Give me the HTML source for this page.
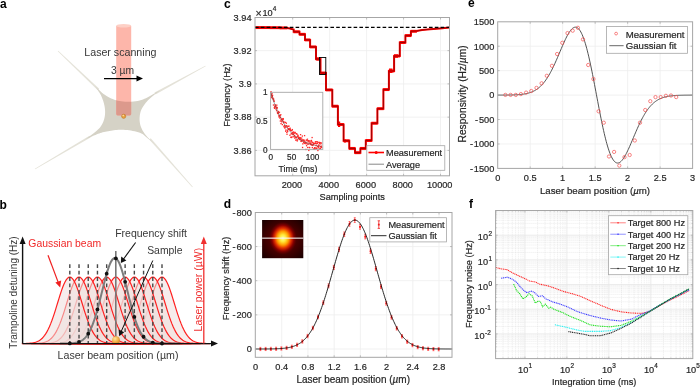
<!DOCTYPE html>
<html><head><meta charset="utf-8"><style>
html,body{margin:0;padding:0;background:#fff;}
svg{display:block;will-change:transform;}
</style></head><body>
<svg width="700" height="387" viewBox="0 0 700 387" font-family="'Liberation Sans', sans-serif">
<rect width="700" height="387" fill="#fff"/>
<text x="0" y="8.3" font-size="12" text-anchor="start" fill="#000" font-weight="bold" >a</text>
<text x="-0.5" y="209" font-size="12" text-anchor="start" fill="#000" font-weight="bold" >b</text>
<text x="224" y="8.3" font-size="12" text-anchor="start" fill="#000" font-weight="bold" >c</text>
<text x="223.8" y="207.5" font-size="12" text-anchor="start" fill="#000" font-weight="bold" >d</text>
<text x="467.9" y="7.4" font-size="12" text-anchor="start" fill="#000" font-weight="bold" >e</text>
<text x="468.9" y="207.5" font-size="12" text-anchor="start" fill="#000" font-weight="bold" >f</text>
<g fill="#e4e2d8" stroke="none">
<polygon points="57.76,51.25 97.81,90.22 99.19,88.78 58.24,50.75"/>
<polygon points="205.33,65.69 154.52,92.62 155.48,94.38 205.67,66.31"/>
<polygon points="192.76,186.77 150.75,138.14 149.25,139.46 192.24,187.23"/>
<polygon points="35.18,169.3 90.51,137.56 89.49,135.84 34.82,168.7"/>
</g>
<clipPath id="memc"><polygon points="94.5,85.5 95.21,86.21 96.2,87.2 97.38,88.38 98.63,89.61 99.87,90.79 101,91.8 101.99,92.65 102.93,93.42 103.84,94.14 104.8,94.83 105.83,95.51 107,96.2 108.3,96.92 109.7,97.65 111.19,98.38 112.74,99.06 114.35,99.68 116,100.2 117.7,100.64 119.46,101.02 121.27,101.33 123.14,101.57 125.05,101.73 127,101.8 129.05,101.78 131.21,101.67 133.42,101.48 135.6,101.22 137.68,100.89 139.6,100.5 141.34,100.03 142.96,99.46 144.49,98.83 145.94,98.16 147.33,97.47 148.7,96.8 150.05,96.1 151.36,95.36 152.61,94.6 153.8,93.86 154.9,93.18 155.9,92.6 156.81,92.1 157.65,91.67 158.4,91.29 159.05,90.97 159.59,90.7 160,90.5 159.17,91.13 158.02,91.99 156.66,93.01 155.2,94.12 153.78,95.24 152.5,96.3 151.34,97.3 150.2,98.29 149.08,99.29 148,100.32 146.97,101.39 146,102.5 145.06,103.67 144.16,104.89 143.29,106.14 142.5,107.41 141.8,108.71 141.2,110 140.72,111.3 140.33,112.63 140.04,113.97 139.82,115.31 139.68,116.66 139.6,118 139.58,119.34 139.63,120.69 139.76,122.03 139.96,123.37 140.24,124.7 140.6,126 141.07,127.3 141.64,128.6 142.3,129.89 143.01,131.15 143.75,132.36 144.5,133.5 145.28,134.57 146.1,135.59 146.96,136.56 147.83,137.49 148.68,138.36 149.5,139.2 150.33,140.02 151.2,140.84 152.06,141.61 152.85,142.3 153.52,142.87 154,143.3 153.22,142.69 152.13,141.83 150.85,140.83 149.49,139.76 148.17,138.72 147,137.8 146.04,136.98 145.21,136.19 144.41,135.43 143.57,134.71 142.59,134.03 141.4,133.4 139.95,132.82 138.31,132.27 136.54,131.78 134.69,131.33 132.82,130.93 131,130.6 129.18,130.33 127.3,130.12 125.41,129.97 123.54,129.87 121.72,129.81 120,129.8 118.38,129.84 116.83,129.95 115.33,130.1 113.87,130.29 112.44,130.49 111,130.7 109.56,130.91 108.14,131.14 106.74,131.39 105.36,131.67 104.01,131.97 102.7,132.3 101.47,132.65 100.34,133.01 99.24,133.41 98.1,133.84 96.88,134.33 95.5,134.9 93.82,135.62 91.86,136.49 89.8,137.41 87.84,138.3 86.18,139.06 85,139.6 86.2,138.71 87.92,137.45 89.92,135.97 92,134.43 93.94,132.95 95.5,131.7 96.7,130.69 97.7,129.8 98.56,128.99 99.32,128.21 100.02,127.39 100.7,126.5 101.36,125.54 101.96,124.55 102.49,123.53 102.98,122.49 103.41,121.41 103.8,120.3 104.15,119.16 104.44,117.97 104.69,116.76 104.89,115.53 105.03,114.27 105.1,113 105.11,111.71 105.06,110.4 104.96,109.08 104.79,107.73 104.57,106.37 104.3,105 103.96,103.58 103.54,102.11 103.07,100.62 102.56,99.17 102.03,97.78 101.5,96.5 100.96,95.34 100.39,94.28 99.79,93.28 99.19,92.33 98.59,91.41 98,90.5 97.38,89.55 96.7,88.57 96.03,87.62 95.41,86.76 94.88,86.03"/></clipPath>
<polygon points="94.5,85.5 95.21,86.21 96.2,87.2 97.38,88.38 98.63,89.61 99.87,90.79 101,91.8 101.99,92.65 102.93,93.42 103.84,94.14 104.8,94.83 105.83,95.51 107,96.2 108.3,96.92 109.7,97.65 111.19,98.38 112.74,99.06 114.35,99.68 116,100.2 117.7,100.64 119.46,101.02 121.27,101.33 123.14,101.57 125.05,101.73 127,101.8 129.05,101.78 131.21,101.67 133.42,101.48 135.6,101.22 137.68,100.89 139.6,100.5 141.34,100.03 142.96,99.46 144.49,98.83 145.94,98.16 147.33,97.47 148.7,96.8 150.05,96.1 151.36,95.36 152.61,94.6 153.8,93.86 154.9,93.18 155.9,92.6 156.81,92.1 157.65,91.67 158.4,91.29 159.05,90.97 159.59,90.7 160,90.5 159.17,91.13 158.02,91.99 156.66,93.01 155.2,94.12 153.78,95.24 152.5,96.3 151.34,97.3 150.2,98.29 149.08,99.29 148,100.32 146.97,101.39 146,102.5 145.06,103.67 144.16,104.89 143.29,106.14 142.5,107.41 141.8,108.71 141.2,110 140.72,111.3 140.33,112.63 140.04,113.97 139.82,115.31 139.68,116.66 139.6,118 139.58,119.34 139.63,120.69 139.76,122.03 139.96,123.37 140.24,124.7 140.6,126 141.07,127.3 141.64,128.6 142.3,129.89 143.01,131.15 143.75,132.36 144.5,133.5 145.28,134.57 146.1,135.59 146.96,136.56 147.83,137.49 148.68,138.36 149.5,139.2 150.33,140.02 151.2,140.84 152.06,141.61 152.85,142.3 153.52,142.87 154,143.3 153.22,142.69 152.13,141.83 150.85,140.83 149.49,139.76 148.17,138.72 147,137.8 146.04,136.98 145.21,136.19 144.41,135.43 143.57,134.71 142.59,134.03 141.4,133.4 139.95,132.82 138.31,132.27 136.54,131.78 134.69,131.33 132.82,130.93 131,130.6 129.18,130.33 127.3,130.12 125.41,129.97 123.54,129.87 121.72,129.81 120,129.8 118.38,129.84 116.83,129.95 115.33,130.1 113.87,130.29 112.44,130.49 111,130.7 109.56,130.91 108.14,131.14 106.74,131.39 105.36,131.67 104.01,131.97 102.7,132.3 101.47,132.65 100.34,133.01 99.24,133.41 98.1,133.84 96.88,134.33 95.5,134.9 93.82,135.62 91.86,136.49 89.8,137.41 87.84,138.3 86.18,139.06 85,139.6 86.2,138.71 87.92,137.45 89.92,135.97 92,134.43 93.94,132.95 95.5,131.7 96.7,130.69 97.7,129.8 98.56,128.99 99.32,128.21 100.02,127.39 100.7,126.5 101.36,125.54 101.96,124.55 102.49,123.53 102.98,122.49 103.41,121.41 103.8,120.3 104.15,119.16 104.44,117.97 104.69,116.76 104.89,115.53 105.03,114.27 105.1,113 105.11,111.71 105.06,110.4 104.96,109.08 104.79,107.73 104.57,106.37 104.3,105 103.96,103.58 103.54,102.11 103.07,100.62 102.56,99.17 102.03,97.78 101.5,96.5 100.96,95.34 100.39,94.28 99.79,93.28 99.19,92.33 98.59,91.41 98,90.5 97.38,89.55 96.7,88.57 96.03,87.62 95.41,86.76 94.88,86.03" fill="#d5d2c6"/>
<path d="M116.2,26 L131.2,26 L131.2,114 Q131.2,115.4 129.8,115.4 L117.6,115.4 Q116.2,115.4 116.2,114 Z" fill="#fdb6aa"/>
<path d="M116.2,26 L131.2,26 L131.2,114 Q131.2,115.4 129.8,115.4 L117.6,115.4 Q116.2,115.4 116.2,114 Z" fill="#dc998c" clip-path="url(#memc)"/>
<ellipse cx="123.7" cy="25.8" rx="7.5" ry="1.8" fill="#fdd0c6"/>
<circle cx="123.7" cy="116.3" r="2.1" fill="#e8a040" stroke="#b87020" stroke-width="0.5"/>
<circle cx="123.2" cy="115.6" r="0.8" fill="#fbe0a0"/>
<text x="84.3" y="55.6" font-size="10.65" text-anchor="start" fill="#383838" >Laser scanning</text>
<text x="111" y="73.6" font-size="10.3" text-anchor="start" fill="#383838" >3 µm</text>
<line x1="104" y1="78.6" x2="138.5" y2="78.6" stroke="#000" stroke-width="1.3" />
<polygon points="143,78.6 136.5,75.6 136.5,81.6" fill="#000"/>
<path d="M114.03,343.57 L115.23,343.55 L116.43,343.53 L117.63,343.5 L118.83,343.46 L120.03,343.4 L121.23,343.33 L122.42,343.22 L123.62,343.09 L124.82,342.91 L126.02,342.68 L127.22,342.38 L128.42,342 L129.62,341.52 L130.82,340.92 L132.02,340.19 L133.22,339.3 L134.42,338.22 L135.62,336.94 L136.82,335.43 L138.01,333.67 L139.21,331.64 L140.41,329.34 L141.61,326.76 L142.81,323.9 L144.01,320.78 L145.21,317.4 L146.41,313.82 L147.61,310.06 L148.81,306.18 L150.01,302.26 L151.21,298.35 L152.41,294.54 L153.61,290.92 L154.8,287.56 L156,284.55 L157.2,281.97 L158.4,279.88 L159.6,278.35 L160.8,277.42 L162,277.1 L163.2,277.42 L164.4,278.35 L165.6,279.88 L166.8,281.97 L168,284.55 L169.2,287.56 L170.39,290.92 L171.59,294.54 L172.79,298.35 L173.99,302.26 L175.19,306.18 L176.39,310.06 L177.59,313.82 L178.79,317.4 L179.99,320.78 L181.19,323.9 L182.39,326.76 L183.59,329.34 L184.79,331.64 L185.99,333.67 L187.18,335.43 L188.38,336.94 L189.58,338.22 L190.78,339.3 L191.98,340.19 L193.18,340.92 L194.38,341.52 L195.58,342 L196.78,342.38 L197.98,342.68 L199.18,342.91 L200.38,343.09 L201.58,343.22 L202.77,343.33 L203.97,343.4 L205.17,343.46 L206.37,343.5 L207.57,343.53 L208.77,343.55 L209.97,343.57 Z" fill="#eedfdd" fill-opacity="0.55" stroke="#ff2020" stroke-width="1.2"/>
<path d="M104.81,343.57 L106.01,343.55 L107.21,343.53 L108.41,343.5 L109.61,343.46 L110.81,343.4 L112.01,343.33 L113.2,343.22 L114.4,343.09 L115.6,342.91 L116.8,342.68 L118,342.38 L119.2,342 L120.4,341.52 L121.6,340.92 L122.8,340.19 L124,339.3 L125.2,338.22 L126.4,336.94 L127.6,335.43 L128.8,333.67 L129.99,331.64 L131.19,329.34 L132.39,326.76 L133.59,323.9 L134.79,320.78 L135.99,317.4 L137.19,313.82 L138.39,310.06 L139.59,306.18 L140.79,302.26 L141.99,298.35 L143.19,294.54 L144.39,290.92 L145.58,287.56 L146.78,284.55 L147.98,281.97 L149.18,279.88 L150.38,278.35 L151.58,277.42 L152.78,277.1 L153.98,277.42 L155.18,278.35 L156.38,279.88 L157.58,281.97 L158.78,284.55 L159.98,287.56 L161.17,290.92 L162.37,294.54 L163.57,298.35 L164.77,302.26 L165.97,306.18 L167.17,310.06 L168.37,313.82 L169.57,317.4 L170.77,320.78 L171.97,323.9 L173.17,326.76 L174.37,329.34 L175.57,331.64 L176.76,333.67 L177.96,335.43 L179.16,336.94 L180.36,338.22 L181.56,339.3 L182.76,340.19 L183.96,340.92 L185.16,341.52 L186.36,342 L187.56,342.38 L188.76,342.68 L189.96,342.91 L191.16,343.09 L192.36,343.22 L193.55,343.33 L194.75,343.4 L195.95,343.46 L197.15,343.5 L198.35,343.53 L199.55,343.55 L200.75,343.57 Z" fill="#eedfdd" fill-opacity="0.55" stroke="#ff2020" stroke-width="1.2"/>
<path d="M95.59,343.57 L96.79,343.55 L97.99,343.53 L99.19,343.5 L100.39,343.46 L101.59,343.4 L102.79,343.33 L103.98,343.22 L105.18,343.09 L106.38,342.91 L107.58,342.68 L108.78,342.38 L109.98,342 L111.18,341.52 L112.38,340.92 L113.58,340.19 L114.78,339.3 L115.98,338.22 L117.18,336.94 L118.38,335.43 L119.58,333.67 L120.77,331.64 L121.97,329.34 L123.17,326.76 L124.37,323.9 L125.57,320.78 L126.77,317.4 L127.97,313.82 L129.17,310.06 L130.37,306.18 L131.57,302.26 L132.77,298.35 L133.97,294.54 L135.17,290.92 L136.36,287.56 L137.56,284.55 L138.76,281.97 L139.96,279.88 L141.16,278.35 L142.36,277.42 L143.56,277.1 L144.76,277.42 L145.96,278.35 L147.16,279.88 L148.36,281.97 L149.56,284.55 L150.76,287.56 L151.95,290.92 L153.15,294.54 L154.35,298.35 L155.55,302.26 L156.75,306.18 L157.95,310.06 L159.15,313.82 L160.35,317.4 L161.55,320.78 L162.75,323.9 L163.95,326.76 L165.15,329.34 L166.35,331.64 L167.55,333.67 L168.74,335.43 L169.94,336.94 L171.14,338.22 L172.34,339.3 L173.54,340.19 L174.74,340.92 L175.94,341.52 L177.14,342 L178.34,342.38 L179.54,342.68 L180.74,342.91 L181.94,343.09 L183.14,343.22 L184.33,343.33 L185.53,343.4 L186.73,343.46 L187.93,343.5 L189.13,343.53 L190.33,343.55 L191.53,343.57 Z" fill="#eedfdd" fill-opacity="0.55" stroke="#ff2020" stroke-width="1.2"/>
<path d="M86.37,343.57 L87.57,343.55 L88.77,343.53 L89.97,343.5 L91.17,343.46 L92.37,343.4 L93.57,343.33 L94.76,343.22 L95.96,343.09 L97.16,342.91 L98.36,342.68 L99.56,342.38 L100.76,342 L101.96,341.52 L103.16,340.92 L104.36,340.19 L105.56,339.3 L106.76,338.22 L107.96,336.94 L109.16,335.43 L110.36,333.67 L111.55,331.64 L112.75,329.34 L113.95,326.76 L115.15,323.9 L116.35,320.78 L117.55,317.4 L118.75,313.82 L119.95,310.06 L121.15,306.18 L122.35,302.26 L123.55,298.35 L124.75,294.54 L125.95,290.92 L127.14,287.56 L128.34,284.55 L129.54,281.97 L130.74,279.88 L131.94,278.35 L133.14,277.42 L134.34,277.1 L135.54,277.42 L136.74,278.35 L137.94,279.88 L139.14,281.97 L140.34,284.55 L141.54,287.56 L142.73,290.92 L143.93,294.54 L145.13,298.35 L146.33,302.26 L147.53,306.18 L148.73,310.06 L149.93,313.82 L151.13,317.4 L152.33,320.78 L153.53,323.9 L154.73,326.76 L155.93,329.34 L157.13,331.64 L158.32,333.67 L159.52,335.43 L160.72,336.94 L161.92,338.22 L163.12,339.3 L164.32,340.19 L165.52,340.92 L166.72,341.52 L167.92,342 L169.12,342.38 L170.32,342.68 L171.52,342.91 L172.72,343.09 L173.92,343.22 L175.11,343.33 L176.31,343.4 L177.51,343.46 L178.71,343.5 L179.91,343.53 L181.11,343.55 L182.31,343.57 Z" fill="#eedfdd" fill-opacity="0.55" stroke="#ff2020" stroke-width="1.2"/>
<path d="M77.15,343.57 L78.35,343.55 L79.55,343.53 L80.75,343.5 L81.95,343.46 L83.15,343.4 L84.35,343.33 L85.54,343.22 L86.74,343.09 L87.94,342.91 L89.14,342.68 L90.34,342.38 L91.54,342 L92.74,341.52 L93.94,340.92 L95.14,340.19 L96.34,339.3 L97.54,338.22 L98.74,336.94 L99.94,335.43 L101.14,333.67 L102.33,331.64 L103.53,329.34 L104.73,326.76 L105.93,323.9 L107.13,320.78 L108.33,317.4 L109.53,313.82 L110.73,310.06 L111.93,306.18 L113.13,302.26 L114.33,298.35 L115.53,294.54 L116.73,290.92 L117.92,287.56 L119.12,284.55 L120.32,281.97 L121.52,279.88 L122.72,278.35 L123.92,277.42 L125.12,277.1 L126.32,277.42 L127.52,278.35 L128.72,279.88 L129.92,281.97 L131.12,284.55 L132.32,287.56 L133.51,290.92 L134.71,294.54 L135.91,298.35 L137.11,302.26 L138.31,306.18 L139.51,310.06 L140.71,313.82 L141.91,317.4 L143.11,320.78 L144.31,323.9 L145.51,326.76 L146.71,329.34 L147.91,331.64 L149.11,333.67 L150.3,335.43 L151.5,336.94 L152.7,338.22 L153.9,339.3 L155.1,340.19 L156.3,340.92 L157.5,341.52 L158.7,342 L159.9,342.38 L161.1,342.68 L162.3,342.91 L163.5,343.09 L164.7,343.22 L165.89,343.33 L167.09,343.4 L168.29,343.46 L169.49,343.5 L170.69,343.53 L171.89,343.55 L173.09,343.57 Z" fill="#eedfdd" fill-opacity="0.55" stroke="#ff2020" stroke-width="1.2"/>
<path d="M67.93,343.57 L69.13,343.55 L70.33,343.53 L71.53,343.5 L72.73,343.46 L73.93,343.4 L75.13,343.33 L76.32,343.22 L77.52,343.09 L78.72,342.91 L79.92,342.68 L81.12,342.38 L82.32,342 L83.52,341.52 L84.72,340.92 L85.92,340.19 L87.12,339.3 L88.32,338.22 L89.52,336.94 L90.72,335.43 L91.92,333.67 L93.11,331.64 L94.31,329.34 L95.51,326.76 L96.71,323.9 L97.91,320.78 L99.11,317.4 L100.31,313.82 L101.51,310.06 L102.71,306.18 L103.91,302.26 L105.11,298.35 L106.31,294.54 L107.51,290.92 L108.7,287.56 L109.9,284.55 L111.1,281.97 L112.3,279.88 L113.5,278.35 L114.7,277.42 L115.9,277.1 L117.1,277.42 L118.3,278.35 L119.5,279.88 L120.7,281.97 L121.9,284.55 L123.1,287.56 L124.29,290.92 L125.49,294.54 L126.69,298.35 L127.89,302.26 L129.09,306.18 L130.29,310.06 L131.49,313.82 L132.69,317.4 L133.89,320.78 L135.09,323.9 L136.29,326.76 L137.49,329.34 L138.69,331.64 L139.88,333.67 L141.08,335.43 L142.28,336.94 L143.48,338.22 L144.68,339.3 L145.88,340.19 L147.08,340.92 L148.28,341.52 L149.48,342 L150.68,342.38 L151.88,342.68 L153.08,342.91 L154.28,343.09 L155.48,343.22 L156.67,343.33 L157.87,343.4 L159.07,343.46 L160.27,343.5 L161.47,343.53 L162.67,343.55 L163.87,343.57 Z" fill="#eedfdd" fill-opacity="0.55" stroke="#ff2020" stroke-width="1.2"/>
<path d="M58.71,343.57 L59.91,343.55 L61.11,343.53 L62.31,343.5 L63.51,343.46 L64.71,343.4 L65.91,343.33 L67.1,343.22 L68.3,343.09 L69.5,342.91 L70.7,342.68 L71.9,342.38 L73.1,342 L74.3,341.52 L75.5,340.92 L76.7,340.19 L77.9,339.3 L79.1,338.22 L80.3,336.94 L81.5,335.43 L82.7,333.67 L83.89,331.64 L85.09,329.34 L86.29,326.76 L87.49,323.9 L88.69,320.78 L89.89,317.4 L91.09,313.82 L92.29,310.06 L93.49,306.18 L94.69,302.26 L95.89,298.35 L97.09,294.54 L98.29,290.92 L99.48,287.56 L100.68,284.55 L101.88,281.97 L103.08,279.88 L104.28,278.35 L105.48,277.42 L106.68,277.1 L107.88,277.42 L109.08,278.35 L110.28,279.88 L111.48,281.97 L112.68,284.55 L113.88,287.56 L115.07,290.92 L116.27,294.54 L117.47,298.35 L118.67,302.26 L119.87,306.18 L121.07,310.06 L122.27,313.82 L123.47,317.4 L124.67,320.78 L125.87,323.9 L127.07,326.76 L128.27,329.34 L129.47,331.64 L130.67,333.67 L131.86,335.43 L133.06,336.94 L134.26,338.22 L135.46,339.3 L136.66,340.19 L137.86,340.92 L139.06,341.52 L140.26,342 L141.46,342.38 L142.66,342.68 L143.86,342.91 L145.06,343.09 L146.26,343.22 L147.45,343.33 L148.65,343.4 L149.85,343.46 L151.05,343.5 L152.25,343.53 L153.45,343.55 L154.65,343.57 Z" fill="#eedfdd" fill-opacity="0.55" stroke="#ff2020" stroke-width="1.2"/>
<path d="M49.49,343.57 L50.69,343.55 L51.89,343.53 L53.09,343.5 L54.29,343.46 L55.49,343.4 L56.69,343.33 L57.88,343.22 L59.08,343.09 L60.28,342.91 L61.48,342.68 L62.68,342.38 L63.88,342 L65.08,341.52 L66.28,340.92 L67.48,340.19 L68.68,339.3 L69.88,338.22 L71.08,336.94 L72.28,335.43 L73.48,333.67 L74.67,331.64 L75.87,329.34 L77.07,326.76 L78.27,323.9 L79.47,320.78 L80.67,317.4 L81.87,313.82 L83.07,310.06 L84.27,306.18 L85.47,302.26 L86.67,298.35 L87.87,294.54 L89.07,290.92 L90.26,287.56 L91.46,284.55 L92.66,281.97 L93.86,279.88 L95.06,278.35 L96.26,277.42 L97.46,277.1 L98.66,277.42 L99.86,278.35 L101.06,279.88 L102.26,281.97 L103.46,284.55 L104.66,287.56 L105.85,290.92 L107.05,294.54 L108.25,298.35 L109.45,302.26 L110.65,306.18 L111.85,310.06 L113.05,313.82 L114.25,317.4 L115.45,320.78 L116.65,323.9 L117.85,326.76 L119.05,329.34 L120.25,331.64 L121.45,333.67 L122.64,335.43 L123.84,336.94 L125.04,338.22 L126.24,339.3 L127.44,340.19 L128.64,340.92 L129.84,341.52 L131.04,342 L132.24,342.38 L133.44,342.68 L134.64,342.91 L135.84,343.09 L137.04,343.22 L138.23,343.33 L139.43,343.4 L140.63,343.46 L141.83,343.5 L143.03,343.53 L144.23,343.55 L145.43,343.57 Z" fill="#eedfdd" fill-opacity="0.55" stroke="#ff2020" stroke-width="1.2"/>
<path d="M40.27,343.57 L41.47,343.55 L42.67,343.53 L43.87,343.5 L45.07,343.46 L46.27,343.4 L47.47,343.33 L48.66,343.22 L49.86,343.09 L51.06,342.91 L52.26,342.68 L53.46,342.38 L54.66,342 L55.86,341.52 L57.06,340.92 L58.26,340.19 L59.46,339.3 L60.66,338.22 L61.86,336.94 L63.06,335.43 L64.25,333.67 L65.45,331.64 L66.65,329.34 L67.85,326.76 L69.05,323.9 L70.25,320.78 L71.45,317.4 L72.65,313.82 L73.85,310.06 L75.05,306.18 L76.25,302.26 L77.45,298.35 L78.65,294.54 L79.85,290.92 L81.04,287.56 L82.24,284.55 L83.44,281.97 L84.64,279.88 L85.84,278.35 L87.04,277.42 L88.24,277.1 L89.44,277.42 L90.64,278.35 L91.84,279.88 L93.04,281.97 L94.24,284.55 L95.44,287.56 L96.63,290.92 L97.83,294.54 L99.03,298.35 L100.23,302.26 L101.43,306.18 L102.63,310.06 L103.83,313.82 L105.03,317.4 L106.23,320.78 L107.43,323.9 L108.63,326.76 L109.83,329.34 L111.03,331.64 L112.22,333.67 L113.42,335.43 L114.62,336.94 L115.82,338.22 L117.02,339.3 L118.22,340.19 L119.42,340.92 L120.62,341.52 L121.82,342 L123.02,342.38 L124.22,342.68 L125.42,342.91 L126.62,343.09 L127.82,343.22 L129.01,343.33 L130.21,343.4 L131.41,343.46 L132.61,343.5 L133.81,343.53 L135.01,343.55 L136.21,343.57 Z" fill="#eedfdd" fill-opacity="0.55" stroke="#ff2020" stroke-width="1.2"/>
<path d="M31.05,343.57 L32.25,343.55 L33.45,343.53 L34.65,343.5 L35.85,343.46 L37.05,343.4 L38.25,343.33 L39.44,343.22 L40.64,343.09 L41.84,342.91 L43.04,342.68 L44.24,342.38 L45.44,342 L46.64,341.52 L47.84,340.92 L49.04,340.19 L50.24,339.3 L51.44,338.22 L52.64,336.94 L53.84,335.43 L55.03,333.67 L56.23,331.64 L57.43,329.34 L58.63,326.76 L59.83,323.9 L61.03,320.78 L62.23,317.4 L63.43,313.82 L64.63,310.06 L65.83,306.18 L67.03,302.26 L68.23,298.35 L69.43,294.54 L70.63,290.92 L71.82,287.56 L73.02,284.55 L74.22,281.97 L75.42,279.88 L76.62,278.35 L77.82,277.42 L79.02,277.1 L80.22,277.42 L81.42,278.35 L82.62,279.88 L83.82,281.97 L85.02,284.55 L86.22,287.56 L87.41,290.92 L88.61,294.54 L89.81,298.35 L91.01,302.26 L92.21,306.18 L93.41,310.06 L94.61,313.82 L95.81,317.4 L97.01,320.78 L98.21,323.9 L99.41,326.76 L100.61,329.34 L101.81,331.64 L103,333.67 L104.2,335.43 L105.4,336.94 L106.6,338.22 L107.8,339.3 L109,340.19 L110.2,340.92 L111.4,341.52 L112.6,342 L113.8,342.38 L115,342.68 L116.2,342.91 L117.4,343.09 L118.6,343.22 L119.79,343.33 L120.99,343.4 L122.19,343.46 L123.39,343.5 L124.59,343.53 L125.79,343.55 L126.99,343.57 Z" fill="#eedfdd" fill-opacity="0.55" stroke="#ff2020" stroke-width="1.2"/>
<path d="M21.83,343.57 L23.03,343.55 L24.23,343.53 L25.43,343.5 L26.63,343.46 L27.83,343.4 L29.03,343.33 L30.22,343.22 L31.42,343.09 L32.62,342.91 L33.82,342.68 L35.02,342.38 L36.22,342 L37.42,341.52 L38.62,340.92 L39.82,340.19 L41.02,339.3 L42.22,338.22 L43.42,336.94 L44.62,335.43 L45.81,333.67 L47.01,331.64 L48.21,329.34 L49.41,326.76 L50.61,323.9 L51.81,320.78 L53.01,317.4 L54.21,313.82 L55.41,310.06 L56.61,306.18 L57.81,302.26 L59.01,298.35 L60.21,294.54 L61.41,290.92 L62.6,287.56 L63.8,284.55 L65,281.97 L66.2,279.88 L67.4,278.35 L68.6,277.42 L69.8,277.1 L71,277.42 L72.2,278.35 L73.4,279.88 L74.6,281.97 L75.8,284.55 L77,287.56 L78.19,290.92 L79.39,294.54 L80.59,298.35 L81.79,302.26 L82.99,306.18 L84.19,310.06 L85.39,313.82 L86.59,317.4 L87.79,320.78 L88.99,323.9 L90.19,326.76 L91.39,329.34 L92.59,331.64 L93.78,333.67 L94.98,335.43 L96.18,336.94 L97.38,338.22 L98.58,339.3 L99.78,340.19 L100.98,340.92 L102.18,341.52 L103.38,342 L104.58,342.38 L105.78,342.68 L106.98,342.91 L108.18,343.09 L109.38,343.22 L110.57,343.33 L111.77,343.4 L112.97,343.46 L114.17,343.5 L115.37,343.53 L116.57,343.55 L117.77,343.57 Z" fill="#eedfdd" fill-opacity="0.55" stroke="#ff2020" stroke-width="1.2"/>
<line x1="69.8" y1="264.3" x2="69.8" y2="343.6" stroke="#484848" stroke-width="1.4" stroke-dasharray="3.8,2.6"/>
<line x1="79.02" y1="264.3" x2="79.02" y2="343.6" stroke="#484848" stroke-width="1.4" stroke-dasharray="3.8,2.6"/>
<line x1="88.24" y1="264.3" x2="88.24" y2="343.6" stroke="#484848" stroke-width="1.4" stroke-dasharray="3.8,2.6"/>
<line x1="97.46" y1="264.3" x2="97.46" y2="343.6" stroke="#484848" stroke-width="1.4" stroke-dasharray="3.8,2.6"/>
<line x1="106.68" y1="264.3" x2="106.68" y2="343.6" stroke="#484848" stroke-width="1.4" stroke-dasharray="3.8,2.6"/>
<line x1="125.12" y1="264.3" x2="125.12" y2="343.6" stroke="#484848" stroke-width="1.4" stroke-dasharray="3.8,2.6"/>
<line x1="134.34" y1="264.3" x2="134.34" y2="343.6" stroke="#484848" stroke-width="1.4" stroke-dasharray="3.8,2.6"/>
<line x1="143.56" y1="264.3" x2="143.56" y2="343.6" stroke="#484848" stroke-width="1.4" stroke-dasharray="3.8,2.6"/>
<line x1="152.78" y1="264.3" x2="152.78" y2="343.6" stroke="#484848" stroke-width="1.4" stroke-dasharray="3.8,2.6"/>
<line x1="162" y1="264.3" x2="162" y2="343.6" stroke="#484848" stroke-width="1.4" stroke-dasharray="3.8,2.6"/>
<line x1="115.8" y1="251" x2="115.8" y2="340" stroke="#777" stroke-width="1.6" />
<polyline points="60,343.59 60.5,343.59 61,343.59 61.5,343.59 62,343.58 62.5,343.58 63,343.58 63.5,343.57 64,343.57 64.5,343.56 65,343.56 65.5,343.55 66,343.54 66.5,343.53 67,343.52 67.5,343.51 68,343.49 68.5,343.48 69,343.46 69.5,343.44 70,343.41 70.5,343.39 71,343.35 71.5,343.32 72,343.28 72.5,343.24 73,343.19 73.5,343.13 74,343.07 74.5,343 75,342.92 75.5,342.83 76,342.74 76.5,342.63 77,342.51 77.5,342.38 78,342.23 78.5,342.07 79,341.89 79.5,341.69 80,341.48 80.5,341.24 81,340.98 81.5,340.7 82,340.39 82.5,340.06 83,339.69 83.5,339.3 84,338.87 84.5,338.41 85,337.91 85.5,337.37 86,336.8 86.5,336.18 87,335.52 87.5,334.81 88,334.05 88.5,333.24 89,332.39 89.5,331.48 90,330.51 90.5,329.5 91,328.42 91.5,327.29 92,326.1 92.5,324.86 93,323.55 93.5,322.19 94,320.77 94.5,319.29 95,317.76 95.5,316.17 96,314.52 96.5,312.83 97,311.09 97.5,309.3 98,307.47 98.5,305.6 99,303.69 99.5,301.75 100,299.78 100.5,297.79 101,295.78 101.5,293.77 102,291.74 102.5,289.72 103,287.7 103.5,285.69 104,283.71 104.5,281.75 105,279.82 105.5,277.93 106,276.1 106.5,274.31 107,272.59 107.5,270.93 108,269.35 108.5,267.85 109,266.44 109.5,265.12 110,263.91 110.5,262.79 111,261.79 111.5,260.89 112,260.12 112.5,259.47 113,258.94 113.5,258.54 114,258.27 114.5,258.12 115,258.11 115.5,258.23 116,258.47 116.5,258.85 117,259.35 117.5,259.98 118,260.73 118.5,261.6 119,262.58 119.5,263.67 120,264.87 120.5,266.17 121,267.56 121.5,269.05 122,270.61 122.5,272.25 123,273.96 123.5,275.73 124,277.56 124.5,279.44 125,281.36 125.5,283.31 126,285.29 126.5,287.3 127,289.31 127.5,291.34 128,293.36 128.5,295.38 129,297.39 129.5,299.39 130,301.36 130.5,303.3 131,305.22 131.5,307.1 132,308.94 132.5,310.73 133,312.49 133.5,314.19 134,315.84 134.5,317.44 135,318.99 135.5,320.48 136,321.91 136.5,323.28 137,324.6 137.5,325.86 138,327.06 138.5,328.2 139,329.29 139.5,330.31 140,331.29 140.5,332.21 141,333.08 141.5,333.89 142,334.66 142.5,335.38 143,336.05 143.5,336.68 144,337.26 144.5,337.81 145,338.31 145.5,338.78 146,339.22 146.5,339.62 147,339.99 147.5,340.33 148,340.64 148.5,340.93 149,341.19 149.5,341.43 150,341.65 150.5,341.85 151,342.03 151.5,342.2 152,342.35 152.5,342.48 153,342.6 153.5,342.71 154,342.81 154.5,342.9 155,342.98 155.5,343.05 156,343.12 156.5,343.18 157,343.23 157.5,343.27 158,343.31 158.5,343.35 159,343.38 159.5,343.41 160,343.43 160.5,343.45 161,343.47 161.5,343.49 162,343.5 162.5,343.52 163,343.53 163.5,343.54 164,343.55 164.5,343.55 165,343.56 165.5,343.57 166,343.57 166.5,343.58 167,343.58 167.5,343.58 168,343.58 168.5,343.59 169,343.59 169.5,343.59 170,343.59 170.5,343.59 171,343.59 171.5,343.6 172,343.6 172.5,343.6 173,343.6 173.5,343.6 174,343.6 174.5,343.6 175,343.6 175.5,343.6 176,343.6 176.5,343.6 177,343.6 177.5,343.6 178,343.6 178.5,343.6 179,343.6 179.5,343.6 180,343.6" fill="none" stroke="#7c7c7c" stroke-width="2.0" />
<circle cx="69.8" cy="343.42" r="1.9" fill="#111"/>
<circle cx="79.02" cy="341.88" r="1.9" fill="#111"/>
<circle cx="88.24" cy="333.67" r="1.9" fill="#111"/>
<circle cx="97.46" cy="309.44" r="1.9" fill="#111"/>
<circle cx="106.68" cy="273.68" r="1.9" fill="#111"/>
<circle cx="115.9" cy="258.42" r="1.9" fill="#111"/>
<circle cx="125.12" cy="281.83" r="1.9" fill="#111"/>
<circle cx="134.34" cy="316.94" r="1.9" fill="#111"/>
<circle cx="143.56" cy="336.75" r="1.9" fill="#111"/>
<circle cx="152.78" cy="342.55" r="1.9" fill="#111"/>
<circle cx="162" cy="343.5" r="1.9" fill="#111"/>
<defs><radialGradient id="ball" cx="0.38" cy="0.32" r="0.7"><stop offset="0" stop-color="#fde4a0"/><stop offset="0.5" stop-color="#f6b850"/><stop offset="1" stop-color="#d88a28"/></radialGradient></defs>
<circle cx="116" cy="340.2" r="3.9" fill="url(#ball)"/>
<line x1="22.6" y1="343.6" x2="212" y2="343.6" stroke="#111" stroke-width="1.4" />
<polygon points="218,343.6 211,340.6 211,346.6" fill="#111"/>
<line x1="22.6" y1="343.6" x2="22.6" y2="243" stroke="#111" stroke-width="1.4" />
<polygon points="22.6,236.5 19.6,244 25.6,244" fill="#111"/>
<line x1="203.8" y1="343.6" x2="203.8" y2="243" stroke="#f03030" stroke-width="1.3" />
<polygon points="203.8,236.5 200.8,244 206.8,244" fill="#f03030"/>
<line x1="135.6" y1="242.5" x2="123.2" y2="259.5" stroke="#111" stroke-width="1.1" />
<polygon points="120.8,263 121.2,256.6 126.4,260.4" fill="#111"/>
<line x1="152.8" y1="260.5" x2="120.5" y2="333" stroke="#111" stroke-width="1.0" />
<polygon points="119.2,336.2 118.6,329.6 124.2,332.2" fill="#111"/>
<line x1="48" y1="255.2" x2="58.6" y2="283.4" stroke="#f02020" stroke-width="1.2" />
<polygon points="60.2,287.6 55.4,282.6 61.2,280.6" fill="#f02020"/>
<text x="28.3" y="246.6" font-size="10.4" text-anchor="start" fill="#f02828" >Gaussian beam</text>
<text x="115.2" y="237" font-size="10.5" text-anchor="start" fill="#383838" >Frequency shift</text>
<text x="147.2" y="254.1" font-size="10.4" text-anchor="start" fill="#383838" >Sample</text>
<text x="118" y="358.8" font-size="10.65" text-anchor="middle" fill="#383838" >Laser beam position (µm)</text>
<text transform="translate(16.9,292.6) rotate(-90)" font-size="10" text-anchor="middle" fill="#383838">Trampoline detuning (Hz)</text>
<text transform="translate(201.6,289.6) rotate(-90)" font-size="10.5" text-anchor="middle" fill="#f03030">Laser power (µW)</text>
<line x1="292.7" y1="17.5" x2="292.7" y2="175.8" stroke="#eeeeee" stroke-width="0.8" />
<line x1="329.65" y1="17.5" x2="329.65" y2="175.8" stroke="#eeeeee" stroke-width="0.8" />
<line x1="366.6" y1="17.5" x2="366.6" y2="175.8" stroke="#eeeeee" stroke-width="0.8" />
<line x1="403.55" y1="17.5" x2="403.55" y2="175.8" stroke="#eeeeee" stroke-width="0.8" />
<line x1="440.5" y1="17.5" x2="440.5" y2="175.8" stroke="#eeeeee" stroke-width="0.8" />
<line x1="255" y1="150.4" x2="449.5" y2="150.4" stroke="#eeeeee" stroke-width="0.8" />
<line x1="255" y1="117.15" x2="449.5" y2="117.15" stroke="#eeeeee" stroke-width="0.8" />
<line x1="255" y1="83.9" x2="449.5" y2="83.9" stroke="#eeeeee" stroke-width="0.8" />
<line x1="255" y1="50.65" x2="449.5" y2="50.65" stroke="#eeeeee" stroke-width="0.8" />
<polyline points="255.5,27.6 270,27.7 280,27.9 287,28.1 290,28.6 293.7,29.6 293.7,31.8 299.5,31.8 299.5,34.3 305,34.3 305,39.9 310.1,39.9 310.1,46.9 316,46.9 316,59 320.5,59 320.5,73 326,73 326,89.9 332.3,89.9 332.3,106.2 337.9,106.2 337.9,124.5 343.6,124.5 343.6,140.8 349.3,140.8 349.3,148.4 355,148.4 355,152.7 360.4,152.7 360.4,148.4 365.8,148.4 365.8,140.5 371.6,140.5 371.6,123.2 377.4,123.2 377.4,108.7 383.4,108.7 383.4,89.6 388.9,89.6 388.9,71 394.1,71 394.1,56 399.8,56 399.8,42.5 405.4,42.5 405.4,35.6 410.9,35.6 410.9,31.3 416.6,31 422,30 430,29.2 440,28.4 449.3,27.6" fill="none" stroke="#ff0000" stroke-width="2.0" stroke-linejoin="miter"/>
<rect x="255.2" y="26.15" width="15.1" height="2.9" fill="#ff0000"/>
<rect x="269.7" y="26.25" width="10.6" height="2.9" fill="#ff0000"/>
<rect x="279.7" y="26.45" width="7.6" height="2.9" fill="#ff0000"/>
<rect x="293.4" y="30.35" width="6.4" height="2.9" fill="#ff0000"/>
<rect x="299.2" y="32.85" width="6.1" height="2.9" fill="#ff0000"/>
<rect x="304.7" y="38.45" width="5.7" height="2.9" fill="#ff0000"/>
<rect x="309.8" y="45.45" width="6.5" height="2.9" fill="#ff0000"/>
<rect x="315.7" y="57.55" width="5.1" height="2.9" fill="#ff0000"/>
<rect x="320.2" y="71.55" width="6.1" height="2.9" fill="#ff0000"/>
<rect x="325.7" y="88.45" width="6.9" height="2.9" fill="#ff0000"/>
<rect x="332" y="104.75" width="6.2" height="2.9" fill="#ff0000"/>
<rect x="337.6" y="123.05" width="6.3" height="2.9" fill="#ff0000"/>
<rect x="343.3" y="139.35" width="6.3" height="2.9" fill="#ff0000"/>
<rect x="349" y="146.95" width="6.3" height="2.9" fill="#ff0000"/>
<rect x="354.7" y="151.25" width="6" height="2.9" fill="#ff0000"/>
<rect x="360.1" y="146.95" width="6" height="2.9" fill="#ff0000"/>
<rect x="365.5" y="139.05" width="6.4" height="2.9" fill="#ff0000"/>
<rect x="371.3" y="121.75" width="6.4" height="2.9" fill="#ff0000"/>
<rect x="377.1" y="107.25" width="6.6" height="2.9" fill="#ff0000"/>
<rect x="383.1" y="88.15" width="6.1" height="2.9" fill="#ff0000"/>
<rect x="388.6" y="69.55" width="5.8" height="2.9" fill="#ff0000"/>
<rect x="393.8" y="54.55" width="6.3" height="2.9" fill="#ff0000"/>
<rect x="399.5" y="41.05" width="6.2" height="2.9" fill="#ff0000"/>
<rect x="405.1" y="34.15" width="6.1" height="2.9" fill="#ff0000"/>
<rect x="410.6" y="29.85" width="6.3" height="2.9" fill="#ff0000"/>
<rect x="338" y="121.5" width="2.2" height="5.5" fill="#ff0000"/>
<rect x="389" y="68.5" width="3.5" height="4.5" fill="#ff0000"/>
<rect x="394" y="54.3" width="4" height="3.5" fill="#ff0000"/>
<rect x="316.5" y="57.5" width="2.5" height="3" fill="#ff0000"/>
<rect x="344" y="139.5" width="2" height="3" fill="#ff0000"/>
<polyline points="255.5,27.6 270,27.7 280,27.9 287,28.1 290,28.6 293.7,29.6 293.7,31.8 299.5,31.8 299.5,34.3 305,34.3 305,39.9 310.1,39.9 310.1,46.9 316,46.9 316,59 320.5,59 320.5,73 326,73 326,89.9 332.3,89.9 332.3,106.2 337.9,106.2 337.9,124.5 343.6,124.5 343.6,140.8 349.3,140.8 349.3,148.4 355,148.4 355,152.7 360.4,152.7 360.4,148.4 365.8,148.4 365.8,140.5 371.6,140.5 371.6,123.2 377.4,123.2 377.4,108.7 383.4,108.7 383.4,89.6 388.9,89.6 388.9,71 394.1,71 394.1,56 399.8,56 399.8,42.5 405.4,42.5 405.4,35.6 410.9,35.6 410.9,31.3 416.6,31 422,30 430,29.2 440,28.4 449.3,27.6" fill="none" stroke="#a00000" stroke-width="1.0" />
<line x1="255" y1="27.4" x2="449.5" y2="27.4" stroke="#000" stroke-width="1.2" stroke-dasharray="3.6,2.2"/>
<rect x="319.5" y="57.5" width="6.3" height="17" fill="none" stroke="#000" stroke-width="0.9" />
<rect x="255" y="17.5" width="194.5" height="158.3" fill="none" stroke="#a6a6a6" stroke-width="1" />
<line x1="292.7" y1="175.8" x2="292.7" y2="173.8" stroke="#a6a6a6" stroke-width="0.7" />
<line x1="292.7" y1="17.5" x2="292.7" y2="19.5" stroke="#a6a6a6" stroke-width="0.7" />
<line x1="329.65" y1="175.8" x2="329.65" y2="173.8" stroke="#a6a6a6" stroke-width="0.7" />
<line x1="329.65" y1="17.5" x2="329.65" y2="19.5" stroke="#a6a6a6" stroke-width="0.7" />
<line x1="366.6" y1="175.8" x2="366.6" y2="173.8" stroke="#a6a6a6" stroke-width="0.7" />
<line x1="366.6" y1="17.5" x2="366.6" y2="19.5" stroke="#a6a6a6" stroke-width="0.7" />
<line x1="403.55" y1="175.8" x2="403.55" y2="173.8" stroke="#a6a6a6" stroke-width="0.7" />
<line x1="403.55" y1="17.5" x2="403.55" y2="19.5" stroke="#a6a6a6" stroke-width="0.7" />
<line x1="440.5" y1="175.8" x2="440.5" y2="173.8" stroke="#a6a6a6" stroke-width="0.7" />
<line x1="440.5" y1="17.5" x2="440.5" y2="19.5" stroke="#a6a6a6" stroke-width="0.7" />
<line x1="255" y1="150.4" x2="257" y2="150.4" stroke="#a6a6a6" stroke-width="0.7" />
<line x1="449.5" y1="150.4" x2="447.5" y2="150.4" stroke="#a6a6a6" stroke-width="0.7" />
<line x1="255" y1="117.15" x2="257" y2="117.15" stroke="#a6a6a6" stroke-width="0.7" />
<line x1="449.5" y1="117.15" x2="447.5" y2="117.15" stroke="#a6a6a6" stroke-width="0.7" />
<line x1="255" y1="83.9" x2="257" y2="83.9" stroke="#a6a6a6" stroke-width="0.7" />
<line x1="449.5" y1="83.9" x2="447.5" y2="83.9" stroke="#a6a6a6" stroke-width="0.7" />
<line x1="255" y1="50.65" x2="257" y2="50.65" stroke="#a6a6a6" stroke-width="0.7" />
<line x1="449.5" y1="50.65" x2="447.5" y2="50.65" stroke="#a6a6a6" stroke-width="0.7" />
<text x="251.5" y="20.7" font-size="9.2" text-anchor="end" fill="#262626" stroke="#262626" stroke-width="0.2" >3.94</text>
<text x="251.5" y="53.95" font-size="9.2" text-anchor="end" fill="#262626" stroke="#262626" stroke-width="0.2" >3.92</text>
<text x="251.5" y="87.2" font-size="9.2" text-anchor="end" fill="#262626" stroke="#262626" stroke-width="0.2" >3.9</text>
<text x="251.5" y="120.45" font-size="9.2" text-anchor="end" fill="#262626" stroke="#262626" stroke-width="0.2" >3.88</text>
<text x="251.5" y="153.7" font-size="9.2" text-anchor="end" fill="#262626" stroke="#262626" stroke-width="0.2" >3.86</text>
<text x="291.9" y="187.8" font-size="9.2" text-anchor="middle" fill="#262626" stroke="#262626" stroke-width="0.2" >2000</text>
<text x="328.85" y="187.8" font-size="9.2" text-anchor="middle" fill="#262626" stroke="#262626" stroke-width="0.2" >4000</text>
<text x="365.8" y="187.8" font-size="9.2" text-anchor="middle" fill="#262626" stroke="#262626" stroke-width="0.2" >6000</text>
<text x="402.75" y="187.8" font-size="9.2" text-anchor="middle" fill="#262626" stroke="#262626" stroke-width="0.2" >8000</text>
<text x="439.7" y="187.8" font-size="9.2" text-anchor="middle" fill="#262626" stroke="#262626" stroke-width="0.2" >10000</text>
<text x="352.2" y="199.6" font-size="9.2" text-anchor="middle" fill="#262626" stroke="#262626" stroke-width="0.2" >Sampling points</text>
<text transform="translate(229.6,95.2) rotate(-90)" font-size="9.2" text-anchor="middle" fill="#262626" stroke="#262626" stroke-width="0.2">Frequency (Hz)</text>
<text x="255.4" y="17" font-size="10.5" text-anchor="start" fill="#262626" stroke="#262626" stroke-width="0.2" >×</text>
<text x="262.5" y="15.7" font-size="9.2" text-anchor="start" fill="#262626" stroke="#262626" stroke-width="0.2" >10</text>
<text x="272.8" y="10.6" font-size="6.4" text-anchor="start" fill="#262626" stroke="#262626" stroke-width="0.2" >4</text>
<rect x="270.6" y="92.3" width="52.2" height="57.1" fill="#fff" stroke="#fff" stroke-width="0" />
<rect x="270.15" y="92.31" width="1.3" height="1.3" fill="#ff2a2a"/>
<rect x="270.37" y="91.09" width="1.3" height="1.3" fill="#ff2a2a"/>
<rect x="270.59" y="93.73" width="1.3" height="1.3" fill="#ff2a2a"/>
<rect x="270.82" y="94.7" width="1.3" height="1.3" fill="#ff2a2a"/>
<rect x="271.04" y="97" width="1.3" height="1.3" fill="#ff2a2a"/>
<rect x="271.26" y="95.88" width="1.3" height="1.3" fill="#ff2a2a"/>
<rect x="271.48" y="93.18" width="1.3" height="1.3" fill="#ff2a2a"/>
<rect x="271.71" y="95.64" width="1.3" height="1.3" fill="#ff2a2a"/>
<rect x="271.93" y="94.76" width="1.3" height="1.3" fill="#ff2a2a"/>
<rect x="272.15" y="97.46" width="1.3" height="1.3" fill="#ff2a2a"/>
<rect x="272.37" y="97.76" width="1.3" height="1.3" fill="#ff2a2a"/>
<rect x="272.59" y="98.96" width="1.3" height="1.3" fill="#ff2a2a"/>
<rect x="272.82" y="104.37" width="1.3" height="1.3" fill="#ff2a2a"/>
<rect x="273.04" y="98.53" width="1.3" height="1.3" fill="#ff2a2a"/>
<rect x="273.26" y="100.06" width="1.3" height="1.3" fill="#ff2a2a"/>
<rect x="273.48" y="100.71" width="1.3" height="1.3" fill="#ff2a2a"/>
<rect x="273.7" y="106.95" width="1.3" height="1.3" fill="#ff2a2a"/>
<rect x="273.93" y="107.7" width="1.3" height="1.3" fill="#ff2a2a"/>
<rect x="274.15" y="106.11" width="1.3" height="1.3" fill="#ff2a2a"/>
<rect x="274.37" y="105.62" width="1.3" height="1.3" fill="#ff2a2a"/>
<rect x="274.59" y="104.22" width="1.3" height="1.3" fill="#ff2a2a"/>
<rect x="274.82" y="105.7" width="1.3" height="1.3" fill="#ff2a2a"/>
<rect x="275.04" y="104.81" width="1.3" height="1.3" fill="#ff2a2a"/>
<rect x="275.26" y="108.37" width="1.3" height="1.3" fill="#ff2a2a"/>
<rect x="275.48" y="106.48" width="1.3" height="1.3" fill="#ff2a2a"/>
<rect x="275.7" y="106.81" width="1.3" height="1.3" fill="#ff2a2a"/>
<rect x="275.93" y="110.06" width="1.3" height="1.3" fill="#ff2a2a"/>
<rect x="276.15" y="104.48" width="1.3" height="1.3" fill="#ff2a2a"/>
<rect x="276.37" y="107.99" width="1.3" height="1.3" fill="#ff2a2a"/>
<rect x="276.59" y="106.87" width="1.3" height="1.3" fill="#ff2a2a"/>
<rect x="276.81" y="112.05" width="1.3" height="1.3" fill="#ff2a2a"/>
<rect x="277.04" y="112.86" width="1.3" height="1.3" fill="#ff2a2a"/>
<rect x="277.26" y="112.35" width="1.3" height="1.3" fill="#ff2a2a"/>
<rect x="277.48" y="112.23" width="1.3" height="1.3" fill="#ff2a2a"/>
<rect x="277.7" y="110.82" width="1.3" height="1.3" fill="#ff2a2a"/>
<rect x="277.93" y="112.29" width="1.3" height="1.3" fill="#ff2a2a"/>
<rect x="278.15" y="114.55" width="1.3" height="1.3" fill="#ff2a2a"/>
<rect x="278.37" y="116.33" width="1.3" height="1.3" fill="#ff2a2a"/>
<rect x="278.59" y="115.67" width="1.3" height="1.3" fill="#ff2a2a"/>
<rect x="278.81" y="111.65" width="1.3" height="1.3" fill="#ff2a2a"/>
<rect x="279.04" y="117.31" width="1.3" height="1.3" fill="#ff2a2a"/>
<rect x="279.26" y="115.05" width="1.3" height="1.3" fill="#ff2a2a"/>
<rect x="279.48" y="115.02" width="1.3" height="1.3" fill="#ff2a2a"/>
<rect x="279.7" y="120.37" width="1.3" height="1.3" fill="#ff2a2a"/>
<rect x="279.92" y="116.85" width="1.3" height="1.3" fill="#ff2a2a"/>
<rect x="280.15" y="114.04" width="1.3" height="1.3" fill="#ff2a2a"/>
<rect x="280.37" y="122.98" width="1.3" height="1.3" fill="#ff2a2a"/>
<rect x="280.59" y="119.04" width="1.3" height="1.3" fill="#ff2a2a"/>
<rect x="280.81" y="118.89" width="1.3" height="1.3" fill="#ff2a2a"/>
<rect x="281.04" y="121.12" width="1.3" height="1.3" fill="#ff2a2a"/>
<rect x="281.26" y="118.13" width="1.3" height="1.3" fill="#ff2a2a"/>
<rect x="281.48" y="119.96" width="1.3" height="1.3" fill="#ff2a2a"/>
<rect x="281.7" y="123.95" width="1.3" height="1.3" fill="#ff2a2a"/>
<rect x="281.92" y="118.43" width="1.3" height="1.3" fill="#ff2a2a"/>
<rect x="282.15" y="119.21" width="1.3" height="1.3" fill="#ff2a2a"/>
<rect x="282.37" y="118.87" width="1.3" height="1.3" fill="#ff2a2a"/>
<rect x="282.59" y="117.96" width="1.3" height="1.3" fill="#ff2a2a"/>
<rect x="282.81" y="121.09" width="1.3" height="1.3" fill="#ff2a2a"/>
<rect x="283.04" y="122.07" width="1.3" height="1.3" fill="#ff2a2a"/>
<rect x="283.26" y="126.06" width="1.3" height="1.3" fill="#ff2a2a"/>
<rect x="283.48" y="121.49" width="1.3" height="1.3" fill="#ff2a2a"/>
<rect x="283.7" y="124.98" width="1.3" height="1.3" fill="#ff2a2a"/>
<rect x="283.92" y="124.91" width="1.3" height="1.3" fill="#ff2a2a"/>
<rect x="284.15" y="127.33" width="1.3" height="1.3" fill="#ff2a2a"/>
<rect x="284.37" y="126.89" width="1.3" height="1.3" fill="#ff2a2a"/>
<rect x="284.59" y="126.09" width="1.3" height="1.3" fill="#ff2a2a"/>
<rect x="284.81" y="121.73" width="1.3" height="1.3" fill="#ff2a2a"/>
<rect x="285.03" y="130.58" width="1.3" height="1.3" fill="#ff2a2a"/>
<rect x="285.26" y="129.41" width="1.3" height="1.3" fill="#ff2a2a"/>
<rect x="285.48" y="125.36" width="1.3" height="1.3" fill="#ff2a2a"/>
<rect x="285.7" y="122.56" width="1.3" height="1.3" fill="#ff2a2a"/>
<rect x="285.92" y="125.08" width="1.3" height="1.3" fill="#ff2a2a"/>
<rect x="286.15" y="131.75" width="1.3" height="1.3" fill="#ff2a2a"/>
<rect x="286.37" y="133.62" width="1.3" height="1.3" fill="#ff2a2a"/>
<rect x="286.59" y="126.52" width="1.3" height="1.3" fill="#ff2a2a"/>
<rect x="286.81" y="129.61" width="1.3" height="1.3" fill="#ff2a2a"/>
<rect x="287.03" y="130.88" width="1.3" height="1.3" fill="#ff2a2a"/>
<rect x="287.26" y="125.76" width="1.3" height="1.3" fill="#ff2a2a"/>
<rect x="287.48" y="125.71" width="1.3" height="1.3" fill="#ff2a2a"/>
<rect x="287.7" y="128.41" width="1.3" height="1.3" fill="#ff2a2a"/>
<rect x="287.92" y="128.44" width="1.3" height="1.3" fill="#ff2a2a"/>
<rect x="288.14" y="128.22" width="1.3" height="1.3" fill="#ff2a2a"/>
<rect x="288.37" y="125.5" width="1.3" height="1.3" fill="#ff2a2a"/>
<rect x="288.59" y="128.26" width="1.3" height="1.3" fill="#ff2a2a"/>
<rect x="288.81" y="128.76" width="1.3" height="1.3" fill="#ff2a2a"/>
<rect x="289.03" y="128.94" width="1.3" height="1.3" fill="#ff2a2a"/>
<rect x="289.26" y="134.62" width="1.3" height="1.3" fill="#ff2a2a"/>
<rect x="289.48" y="127.53" width="1.3" height="1.3" fill="#ff2a2a"/>
<rect x="289.7" y="128.61" width="1.3" height="1.3" fill="#ff2a2a"/>
<rect x="289.92" y="129.94" width="1.3" height="1.3" fill="#ff2a2a"/>
<rect x="290.14" y="136.6" width="1.3" height="1.3" fill="#ff2a2a"/>
<rect x="290.37" y="133.39" width="1.3" height="1.3" fill="#ff2a2a"/>
<rect x="290.59" y="129.82" width="1.3" height="1.3" fill="#ff2a2a"/>
<rect x="290.81" y="136.86" width="1.3" height="1.3" fill="#ff2a2a"/>
<rect x="291.03" y="132.9" width="1.3" height="1.3" fill="#ff2a2a"/>
<rect x="291.25" y="130.02" width="1.3" height="1.3" fill="#ff2a2a"/>
<rect x="291.48" y="136.22" width="1.3" height="1.3" fill="#ff2a2a"/>
<rect x="291.7" y="128.93" width="1.3" height="1.3" fill="#ff2a2a"/>
<rect x="291.92" y="131.85" width="1.3" height="1.3" fill="#ff2a2a"/>
<rect x="292.14" y="133.86" width="1.3" height="1.3" fill="#ff2a2a"/>
<rect x="292.37" y="132.84" width="1.3" height="1.3" fill="#ff2a2a"/>
<rect x="292.59" y="132.21" width="1.3" height="1.3" fill="#ff2a2a"/>
<rect x="292.81" y="133.76" width="1.3" height="1.3" fill="#ff2a2a"/>
<rect x="293.03" y="131.32" width="1.3" height="1.3" fill="#ff2a2a"/>
<rect x="293.25" y="136.16" width="1.3" height="1.3" fill="#ff2a2a"/>
<rect x="293.48" y="135.71" width="1.3" height="1.3" fill="#ff2a2a"/>
<rect x="293.7" y="132.16" width="1.3" height="1.3" fill="#ff2a2a"/>
<rect x="293.92" y="134.95" width="1.3" height="1.3" fill="#ff2a2a"/>
<rect x="294.14" y="137.46" width="1.3" height="1.3" fill="#ff2a2a"/>
<rect x="294.37" y="132.95" width="1.3" height="1.3" fill="#ff2a2a"/>
<rect x="294.59" y="131.79" width="1.3" height="1.3" fill="#ff2a2a"/>
<rect x="294.81" y="136.87" width="1.3" height="1.3" fill="#ff2a2a"/>
<rect x="295.03" y="139.45" width="1.3" height="1.3" fill="#ff2a2a"/>
<rect x="295.25" y="136.42" width="1.3" height="1.3" fill="#ff2a2a"/>
<rect x="295.48" y="136.62" width="1.3" height="1.3" fill="#ff2a2a"/>
<rect x="295.7" y="137.17" width="1.3" height="1.3" fill="#ff2a2a"/>
<rect x="295.92" y="132.96" width="1.3" height="1.3" fill="#ff2a2a"/>
<rect x="296.14" y="139.37" width="1.3" height="1.3" fill="#ff2a2a"/>
<rect x="296.36" y="133.65" width="1.3" height="1.3" fill="#ff2a2a"/>
<rect x="296.59" y="140.31" width="1.3" height="1.3" fill="#ff2a2a"/>
<rect x="296.81" y="139.22" width="1.3" height="1.3" fill="#ff2a2a"/>
<rect x="297.03" y="135.73" width="1.3" height="1.3" fill="#ff2a2a"/>
<rect x="297.25" y="134.6" width="1.3" height="1.3" fill="#ff2a2a"/>
<rect x="297.48" y="135.45" width="1.3" height="1.3" fill="#ff2a2a"/>
<rect x="297.7" y="136.91" width="1.3" height="1.3" fill="#ff2a2a"/>
<rect x="297.92" y="137.58" width="1.3" height="1.3" fill="#ff2a2a"/>
<rect x="298.14" y="137.7" width="1.3" height="1.3" fill="#ff2a2a"/>
<rect x="298.36" y="136.75" width="1.3" height="1.3" fill="#ff2a2a"/>
<rect x="298.59" y="138.82" width="1.3" height="1.3" fill="#ff2a2a"/>
<rect x="298.81" y="137.79" width="1.3" height="1.3" fill="#ff2a2a"/>
<rect x="299.03" y="137.17" width="1.3" height="1.3" fill="#ff2a2a"/>
<rect x="299.25" y="138.77" width="1.3" height="1.3" fill="#ff2a2a"/>
<rect x="299.47" y="136.94" width="1.3" height="1.3" fill="#ff2a2a"/>
<rect x="299.7" y="137.58" width="1.3" height="1.3" fill="#ff2a2a"/>
<rect x="299.92" y="134" width="1.3" height="1.3" fill="#ff2a2a"/>
<rect x="300.14" y="138.46" width="1.3" height="1.3" fill="#ff2a2a"/>
<rect x="300.36" y="140.52" width="1.3" height="1.3" fill="#ff2a2a"/>
<rect x="300.59" y="140.5" width="1.3" height="1.3" fill="#ff2a2a"/>
<rect x="300.81" y="139.7" width="1.3" height="1.3" fill="#ff2a2a"/>
<rect x="301.03" y="137.41" width="1.3" height="1.3" fill="#ff2a2a"/>
<rect x="301.25" y="140.77" width="1.3" height="1.3" fill="#ff2a2a"/>
<rect x="301.47" y="139.03" width="1.3" height="1.3" fill="#ff2a2a"/>
<rect x="301.7" y="135.41" width="1.3" height="1.3" fill="#ff2a2a"/>
<rect x="301.92" y="146.84" width="1.3" height="1.3" fill="#ff2a2a"/>
<rect x="302.14" y="143.25" width="1.3" height="1.3" fill="#ff2a2a"/>
<rect x="302.36" y="139.85" width="1.3" height="1.3" fill="#ff2a2a"/>
<rect x="302.58" y="139.56" width="1.3" height="1.3" fill="#ff2a2a"/>
<rect x="302.81" y="140.08" width="1.3" height="1.3" fill="#ff2a2a"/>
<rect x="303.03" y="141.9" width="1.3" height="1.3" fill="#ff2a2a"/>
<rect x="303.25" y="139.22" width="1.3" height="1.3" fill="#ff2a2a"/>
<rect x="303.47" y="140.28" width="1.3" height="1.3" fill="#ff2a2a"/>
<rect x="303.7" y="142.45" width="1.3" height="1.3" fill="#ff2a2a"/>
<rect x="303.92" y="134.97" width="1.3" height="1.3" fill="#ff2a2a"/>
<rect x="304.14" y="140.4" width="1.3" height="1.3" fill="#ff2a2a"/>
<rect x="304.36" y="142.83" width="1.3" height="1.3" fill="#ff2a2a"/>
<rect x="304.58" y="141.76" width="1.3" height="1.3" fill="#ff2a2a"/>
<rect x="304.81" y="142.18" width="1.3" height="1.3" fill="#ff2a2a"/>
<rect x="305.03" y="141.86" width="1.3" height="1.3" fill="#ff2a2a"/>
<rect x="305.25" y="148.8" width="1.3" height="1.3" fill="#ff2a2a"/>
<rect x="305.47" y="143.13" width="1.3" height="1.3" fill="#ff2a2a"/>
<rect x="305.7" y="139.38" width="1.3" height="1.3" fill="#ff2a2a"/>
<rect x="305.92" y="145.06" width="1.3" height="1.3" fill="#ff2a2a"/>
<rect x="306.14" y="142.32" width="1.3" height="1.3" fill="#ff2a2a"/>
<rect x="306.36" y="139.79" width="1.3" height="1.3" fill="#ff2a2a"/>
<rect x="306.58" y="140.12" width="1.3" height="1.3" fill="#ff2a2a"/>
<rect x="306.81" y="138.58" width="1.3" height="1.3" fill="#ff2a2a"/>
<rect x="307.03" y="146.86" width="1.3" height="1.3" fill="#ff2a2a"/>
<rect x="307.25" y="143.48" width="1.3" height="1.3" fill="#ff2a2a"/>
<rect x="307.47" y="143.53" width="1.3" height="1.3" fill="#ff2a2a"/>
<rect x="307.69" y="141.14" width="1.3" height="1.3" fill="#ff2a2a"/>
<rect x="307.92" y="140.01" width="1.3" height="1.3" fill="#ff2a2a"/>
<rect x="308.14" y="149.79" width="1.3" height="1.3" fill="#ff2a2a"/>
<rect x="308.36" y="140.18" width="1.3" height="1.3" fill="#ff2a2a"/>
<rect x="308.58" y="146.77" width="1.3" height="1.3" fill="#ff2a2a"/>
<rect x="308.81" y="141.37" width="1.3" height="1.3" fill="#ff2a2a"/>
<rect x="309.03" y="147.03" width="1.3" height="1.3" fill="#ff2a2a"/>
<rect x="309.25" y="142.82" width="1.3" height="1.3" fill="#ff2a2a"/>
<rect x="309.47" y="140.28" width="1.3" height="1.3" fill="#ff2a2a"/>
<rect x="309.69" y="143.8" width="1.3" height="1.3" fill="#ff2a2a"/>
<rect x="309.92" y="143" width="1.3" height="1.3" fill="#ff2a2a"/>
<rect x="310.14" y="141.51" width="1.3" height="1.3" fill="#ff2a2a"/>
<rect x="310.36" y="143.26" width="1.3" height="1.3" fill="#ff2a2a"/>
<rect x="310.58" y="143.92" width="1.3" height="1.3" fill="#ff2a2a"/>
<rect x="310.8" y="139.82" width="1.3" height="1.3" fill="#ff2a2a"/>
<rect x="311.03" y="141.13" width="1.3" height="1.3" fill="#ff2a2a"/>
<rect x="311.25" y="144.65" width="1.3" height="1.3" fill="#ff2a2a"/>
<rect x="311.47" y="136.9" width="1.3" height="1.3" fill="#ff2a2a"/>
<rect x="311.69" y="146.97" width="1.3" height="1.3" fill="#ff2a2a"/>
<rect x="311.92" y="141.73" width="1.3" height="1.3" fill="#ff2a2a"/>
<rect x="312.14" y="144.83" width="1.3" height="1.3" fill="#ff2a2a"/>
<rect x="312.36" y="143.86" width="1.3" height="1.3" fill="#ff2a2a"/>
<rect x="312.58" y="142.45" width="1.3" height="1.3" fill="#ff2a2a"/>
<rect x="312.8" y="143.75" width="1.3" height="1.3" fill="#ff2a2a"/>
<rect x="313.03" y="142.74" width="1.3" height="1.3" fill="#ff2a2a"/>
<rect x="313.25" y="148.36" width="1.3" height="1.3" fill="#ff2a2a"/>
<rect x="313.47" y="148.38" width="1.3" height="1.3" fill="#ff2a2a"/>
<rect x="313.69" y="142.97" width="1.3" height="1.3" fill="#ff2a2a"/>
<rect x="313.91" y="147.08" width="1.3" height="1.3" fill="#ff2a2a"/>
<rect x="314.14" y="147.3" width="1.3" height="1.3" fill="#ff2a2a"/>
<rect x="314.36" y="148.5" width="1.3" height="1.3" fill="#ff2a2a"/>
<rect x="314.58" y="141.52" width="1.3" height="1.3" fill="#ff2a2a"/>
<rect x="314.8" y="142.91" width="1.3" height="1.3" fill="#ff2a2a"/>
<rect x="315.03" y="141.09" width="1.3" height="1.3" fill="#ff2a2a"/>
<rect x="315.25" y="147.34" width="1.3" height="1.3" fill="#ff2a2a"/>
<rect x="315.47" y="144.97" width="1.3" height="1.3" fill="#ff2a2a"/>
<rect x="315.69" y="147.96" width="1.3" height="1.3" fill="#ff2a2a"/>
<rect x="315.91" y="143.11" width="1.3" height="1.3" fill="#ff2a2a"/>
<rect x="316.14" y="141.04" width="1.3" height="1.3" fill="#ff2a2a"/>
<rect x="316.36" y="147.46" width="1.3" height="1.3" fill="#ff2a2a"/>
<rect x="316.58" y="141.21" width="1.3" height="1.3" fill="#ff2a2a"/>
<rect x="316.8" y="142.73" width="1.3" height="1.3" fill="#ff2a2a"/>
<rect x="317.03" y="145.77" width="1.3" height="1.3" fill="#ff2a2a"/>
<rect x="317.25" y="149.89" width="1.3" height="1.3" fill="#ff2a2a"/>
<rect x="317.47" y="141.79" width="1.3" height="1.3" fill="#ff2a2a"/>
<rect x="317.69" y="145.7" width="1.3" height="1.3" fill="#ff2a2a"/>
<rect x="317.91" y="147.04" width="1.3" height="1.3" fill="#ff2a2a"/>
<rect x="318.14" y="144.51" width="1.3" height="1.3" fill="#ff2a2a"/>
<rect x="318.36" y="144.52" width="1.3" height="1.3" fill="#ff2a2a"/>
<rect x="318.58" y="141.77" width="1.3" height="1.3" fill="#ff2a2a"/>
<rect x="318.8" y="148.28" width="1.3" height="1.3" fill="#ff2a2a"/>
<rect x="319.02" y="142.78" width="1.3" height="1.3" fill="#ff2a2a"/>
<rect x="319.25" y="141.92" width="1.3" height="1.3" fill="#ff2a2a"/>
<rect x="319.47" y="142.05" width="1.3" height="1.3" fill="#ff2a2a"/>
<rect x="319.69" y="146.28" width="1.3" height="1.3" fill="#ff2a2a"/>
<rect x="319.91" y="147.77" width="1.3" height="1.3" fill="#ff2a2a"/>
<rect x="320.14" y="143.28" width="1.3" height="1.3" fill="#ff2a2a"/>
<rect x="320.36" y="145.64" width="1.3" height="1.3" fill="#ff2a2a"/>
<rect x="320.58" y="145.65" width="1.3" height="1.3" fill="#ff2a2a"/>
<rect x="320.8" y="142.35" width="1.3" height="1.3" fill="#ff2a2a"/>
<rect x="321.02" y="146.72" width="1.3" height="1.3" fill="#ff2a2a"/>
<polyline points="270.8,92.3 271.32,94.06 271.84,95.76 272.36,97.41 272.88,99.01 273.41,100.56 273.93,102.06 274.45,103.52 274.97,104.93 275.49,106.3 276.01,107.62 276.53,108.91 277.06,110.16 277.58,111.36 278.1,112.53 278.62,113.67 279.14,114.77 279.66,115.83 280.18,116.87 280.7,117.87 281.23,118.84 281.75,119.78 282.27,120.69 282.79,121.57 283.31,122.43 283.83,123.26 284.35,124.06 284.87,124.84 285.39,125.6 285.92,126.33 286.44,127.04 286.96,127.73 287.48,128.39 288,129.04 288.52,129.67 289.04,130.27 289.56,130.86 290.09,131.43 290.61,131.99 291.13,132.52 291.65,133.04 292.17,133.54 292.69,134.03 293.21,134.5 293.74,134.96 294.26,135.41 294.78,135.84 295.3,136.25 295.82,136.66 296.34,137.05 296.86,137.43 297.38,137.8 297.91,138.16 298.43,138.5 298.95,138.84 299.47,139.16 299.99,139.48 300.51,139.78 301.03,140.08 301.55,140.37 302.07,140.64 302.6,140.91 303.12,141.17 303.64,141.43 304.16,141.67 304.68,141.91 305.2,142.14 305.72,142.36 306.25,142.58 306.77,142.79 307.29,142.99 307.81,143.19 308.33,143.38 308.85,143.57 309.37,143.75 309.89,143.92 310.42,144.09 310.94,144.25 311.46,144.41 311.98,144.56 312.5,144.71 313.02,144.86 313.54,145 314.06,145.13 314.59,145.26 315.11,145.39 315.63,145.51 316.15,145.63 316.67,145.75 317.19,145.86 317.71,145.97 318.23,146.08 318.75,146.18 319.28,146.28 319.8,146.37 320.32,146.47 320.84,146.56 321.36,146.64" fill="none" stroke="#555" stroke-width="0.6" />
<rect x="270.6" y="92.3" width="52.2" height="57.1" fill="none" stroke="#a6a6a6" stroke-width="0.9" />
<text x="267.6" y="95.2" font-size="8.2" text-anchor="end" fill="#262626" stroke="#262626" stroke-width="0.2" >1</text>
<text x="267.6" y="123.75" font-size="8.2" text-anchor="end" fill="#262626" stroke="#262626" stroke-width="0.2" >0.5</text>
<text x="267.6" y="153" font-size="8.2" text-anchor="end" fill="#262626" stroke="#262626" stroke-width="0.2" >0</text>
<text x="270.8" y="159.8" font-size="8.2" text-anchor="middle" fill="#262626" stroke="#262626" stroke-width="0.2" >0</text>
<text x="291.65" y="159.8" font-size="8.2" text-anchor="middle" fill="#262626" stroke="#262626" stroke-width="0.2" >50</text>
<text x="312.5" y="159.8" font-size="8.2" text-anchor="middle" fill="#262626" stroke="#262626" stroke-width="0.2" >100</text>
<text x="297.9" y="171.5" font-size="8.7" text-anchor="middle" fill="#262626" stroke="#262626" stroke-width="0.2" >Time (ms)</text>
<rect x="366.8" y="145.7" width="78" height="24.6" fill="#fff" stroke="#a6a6a6" stroke-width="0.8" />
<line x1="368.5" y1="152.5" x2="384" y2="152.5" stroke="#ff0000" stroke-width="1.6" />
<circle cx="376.2" cy="152.5" r="1.5" fill="#ff0000"/>
<line x1="368.5" y1="164.2" x2="384" y2="164.2" stroke="#555" stroke-width="0.7" />
<text x="386" y="156.1" font-size="9.2" text-anchor="start" fill="#262626" stroke="#262626" stroke-width="0.2" >Measurement</text>
<text x="386" y="167.7" font-size="9.2" text-anchor="start" fill="#262626" stroke="#262626" stroke-width="0.2" >Average</text>
<line x1="281.72" y1="212.5" x2="281.72" y2="357.3" stroke="#eeeeee" stroke-width="0.8" />
<line x1="307.94" y1="212.5" x2="307.94" y2="357.3" stroke="#eeeeee" stroke-width="0.8" />
<line x1="334.16" y1="212.5" x2="334.16" y2="357.3" stroke="#eeeeee" stroke-width="0.8" />
<line x1="360.38" y1="212.5" x2="360.38" y2="357.3" stroke="#eeeeee" stroke-width="0.8" />
<line x1="386.6" y1="212.5" x2="386.6" y2="357.3" stroke="#eeeeee" stroke-width="0.8" />
<line x1="412.82" y1="212.5" x2="412.82" y2="357.3" stroke="#eeeeee" stroke-width="0.8" />
<line x1="439.04" y1="212.5" x2="439.04" y2="357.3" stroke="#eeeeee" stroke-width="0.8" />
<line x1="255.3" y1="246.55" x2="452" y2="246.55" stroke="#eeeeee" stroke-width="0.8" />
<line x1="255.3" y1="280.7" x2="452" y2="280.7" stroke="#eeeeee" stroke-width="0.8" />
<line x1="255.3" y1="314.85" x2="452" y2="314.85" stroke="#eeeeee" stroke-width="0.8" />
<line x1="255.3" y1="349" x2="452" y2="349" stroke="#eeeeee" stroke-width="0.8" />
<defs>
<radialGradient id="hm" cx="0.5" cy="0.5" r="0.5" gradientUnits="objectBoundingBox">
<stop offset="0" stop-color="#ffffa0"/>
<stop offset="0.22" stop-color="#ffe838"/>
<stop offset="0.42" stop-color="#ff9a00"/>
<stop offset="0.6" stop-color="#e03000"/>
<stop offset="0.78" stop-color="#8a0000"/>
<stop offset="1" stop-color="#600000" stop-opacity="0"/>
</radialGradient>
<radialGradient id="hmbg" cx="0.5" cy="0.5" r="0.72">
<stop offset="0" stop-color="#700000"/>
<stop offset="0.55" stop-color="#420000"/>
<stop offset="1" stop-color="#140000"/>
</radialGradient>
<clipPath id="hmc"><rect x="262.1" y="220" width="41.2" height="38.2"/></clipPath>
</defs>
<rect x="262.1" y="220" width="41.2" height="38.2" fill="url(#hmbg)"/>
<g clip-path="url(#hmc)"><ellipse cx="282.9" cy="238.2" rx="14" ry="16.5" fill="url(#hm)"/></g>
<rect x="262.1" y="237.6" width="41.2" height="1.1" fill="#f4f4f4"/>
<line x1="260.38" y1="347.39" x2="260.38" y2="350.59" stroke="#ff2020" stroke-width="0.7" />
<line x1="259.38" y1="347.39" x2="261.38" y2="347.39" stroke="#ff2020" stroke-width="0.6" />
<line x1="259.38" y1="350.59" x2="261.38" y2="350.59" stroke="#ff2020" stroke-width="0.6" />
<rect x="259.48" y="348.09" width="1.8" height="1.8" fill="#ff1010"/>
<line x1="265.63" y1="347.36" x2="265.63" y2="350.56" stroke="#ff2020" stroke-width="0.7" />
<line x1="264.63" y1="347.36" x2="266.63" y2="347.36" stroke="#ff2020" stroke-width="0.6" />
<line x1="264.63" y1="350.56" x2="266.63" y2="350.56" stroke="#ff2020" stroke-width="0.6" />
<rect x="264.73" y="348.06" width="1.8" height="1.8" fill="#ff1010"/>
<line x1="270.87" y1="347.31" x2="270.87" y2="350.51" stroke="#ff2020" stroke-width="0.7" />
<line x1="269.87" y1="347.31" x2="271.87" y2="347.31" stroke="#ff2020" stroke-width="0.6" />
<line x1="269.87" y1="350.51" x2="271.87" y2="350.51" stroke="#ff2020" stroke-width="0.6" />
<rect x="269.97" y="348.01" width="1.8" height="1.8" fill="#ff1010"/>
<line x1="276.12" y1="347.18" x2="276.12" y2="350.38" stroke="#ff2020" stroke-width="0.7" />
<line x1="275.12" y1="347.18" x2="277.12" y2="347.18" stroke="#ff2020" stroke-width="0.6" />
<line x1="275.12" y1="350.38" x2="277.12" y2="350.38" stroke="#ff2020" stroke-width="0.6" />
<rect x="275.22" y="347.88" width="1.8" height="1.8" fill="#ff1010"/>
<line x1="281.36" y1="346.89" x2="281.36" y2="350.1" stroke="#ff2020" stroke-width="0.7" />
<line x1="280.36" y1="346.89" x2="282.36" y2="346.89" stroke="#ff2020" stroke-width="0.6" />
<line x1="280.36" y1="350.1" x2="282.36" y2="350.1" stroke="#ff2020" stroke-width="0.6" />
<rect x="280.46" y="347.6" width="1.8" height="1.8" fill="#ff1010"/>
<line x1="286.6" y1="346.32" x2="286.6" y2="349.53" stroke="#ff2020" stroke-width="0.7" />
<line x1="285.6" y1="346.32" x2="287.6" y2="346.32" stroke="#ff2020" stroke-width="0.6" />
<line x1="285.6" y1="349.53" x2="287.6" y2="349.53" stroke="#ff2020" stroke-width="0.6" />
<rect x="285.7" y="347.02" width="1.8" height="1.8" fill="#ff1010"/>
<line x1="291.85" y1="345.2" x2="291.85" y2="348.43" stroke="#ff2020" stroke-width="0.7" />
<line x1="290.85" y1="345.2" x2="292.85" y2="345.2" stroke="#ff2020" stroke-width="0.6" />
<line x1="290.85" y1="348.43" x2="292.85" y2="348.43" stroke="#ff2020" stroke-width="0.6" />
<rect x="290.95" y="345.92" width="1.8" height="1.8" fill="#ff1010"/>
<line x1="297.09" y1="343.2" x2="297.09" y2="346.44" stroke="#ff2020" stroke-width="0.7" />
<line x1="296.09" y1="343.2" x2="298.09" y2="343.2" stroke="#ff2020" stroke-width="0.6" />
<line x1="296.09" y1="346.44" x2="298.09" y2="346.44" stroke="#ff2020" stroke-width="0.6" />
<rect x="296.19" y="343.92" width="1.8" height="1.8" fill="#ff1010"/>
<line x1="302.34" y1="339.79" x2="302.34" y2="343.08" stroke="#ff2020" stroke-width="0.7" />
<line x1="301.34" y1="339.79" x2="303.34" y2="339.79" stroke="#ff2020" stroke-width="0.6" />
<line x1="301.34" y1="343.08" x2="303.34" y2="343.08" stroke="#ff2020" stroke-width="0.6" />
<rect x="301.44" y="340.53" width="1.8" height="1.8" fill="#ff1010"/>
<line x1="307.58" y1="334.38" x2="307.58" y2="337.73" stroke="#ff2020" stroke-width="0.7" />
<line x1="306.58" y1="334.38" x2="308.58" y2="334.38" stroke="#ff2020" stroke-width="0.6" />
<line x1="306.58" y1="337.73" x2="308.58" y2="337.73" stroke="#ff2020" stroke-width="0.6" />
<rect x="306.68" y="335.15" width="1.8" height="1.8" fill="#ff1010"/>
<line x1="312.82" y1="326.34" x2="312.82" y2="329.78" stroke="#ff2020" stroke-width="0.7" />
<line x1="311.82" y1="326.34" x2="313.82" y2="326.34" stroke="#ff2020" stroke-width="0.6" />
<line x1="311.82" y1="329.78" x2="313.82" y2="329.78" stroke="#ff2020" stroke-width="0.6" />
<rect x="311.92" y="327.16" width="1.8" height="1.8" fill="#ff1010"/>
<line x1="318.07" y1="315.2" x2="318.07" y2="318.77" stroke="#ff2020" stroke-width="0.7" />
<line x1="317.07" y1="315.2" x2="319.07" y2="315.2" stroke="#ff2020" stroke-width="0.6" />
<line x1="317.07" y1="318.77" x2="319.07" y2="318.77" stroke="#ff2020" stroke-width="0.6" />
<rect x="317.17" y="316.09" width="1.8" height="1.8" fill="#ff1010"/>
<line x1="323.31" y1="300.87" x2="323.31" y2="304.61" stroke="#ff2020" stroke-width="0.7" />
<line x1="322.31" y1="300.87" x2="324.31" y2="300.87" stroke="#ff2020" stroke-width="0.6" />
<line x1="322.31" y1="304.61" x2="324.31" y2="304.61" stroke="#ff2020" stroke-width="0.6" />
<rect x="322.41" y="301.84" width="1.8" height="1.8" fill="#ff1010"/>
<line x1="328.56" y1="283.85" x2="328.56" y2="287.79" stroke="#ff2020" stroke-width="0.7" />
<line x1="327.56" y1="283.85" x2="329.56" y2="283.85" stroke="#ff2020" stroke-width="0.6" />
<line x1="327.56" y1="287.79" x2="329.56" y2="287.79" stroke="#ff2020" stroke-width="0.6" />
<rect x="327.66" y="284.92" width="1.8" height="1.8" fill="#ff1010"/>
<line x1="333.8" y1="265.37" x2="333.8" y2="269.52" stroke="#ff2020" stroke-width="0.7" />
<line x1="332.8" y1="265.37" x2="334.8" y2="265.37" stroke="#ff2020" stroke-width="0.6" />
<line x1="332.8" y1="269.52" x2="334.8" y2="269.52" stroke="#ff2020" stroke-width="0.6" />
<rect x="332.9" y="266.55" width="1.8" height="1.8" fill="#ff1010"/>
<line x1="339.04" y1="247.31" x2="339.04" y2="251.67" stroke="#ff2020" stroke-width="0.7" />
<line x1="338.04" y1="247.31" x2="340.04" y2="247.31" stroke="#ff2020" stroke-width="0.6" />
<line x1="338.04" y1="251.67" x2="340.04" y2="251.67" stroke="#ff2020" stroke-width="0.6" />
<rect x="338.14" y="248.59" width="1.8" height="1.8" fill="#ff1010"/>
<line x1="344.29" y1="231.96" x2="344.29" y2="236.5" stroke="#ff2020" stroke-width="0.7" />
<line x1="343.29" y1="231.96" x2="345.29" y2="231.96" stroke="#ff2020" stroke-width="0.6" />
<line x1="343.29" y1="236.5" x2="345.29" y2="236.5" stroke="#ff2020" stroke-width="0.6" />
<rect x="343.39" y="233.33" width="1.8" height="1.8" fill="#ff1010"/>
<line x1="349.53" y1="221.56" x2="349.53" y2="226.22" stroke="#ff2020" stroke-width="0.7" />
<line x1="348.53" y1="221.56" x2="350.53" y2="221.56" stroke="#ff2020" stroke-width="0.6" />
<line x1="348.53" y1="226.22" x2="350.53" y2="226.22" stroke="#ff2020" stroke-width="0.6" />
<rect x="348.63" y="222.99" width="1.8" height="1.8" fill="#ff1010"/>
<line x1="354.78" y1="217.73" x2="354.78" y2="222.44" stroke="#ff2020" stroke-width="0.7" />
<line x1="353.78" y1="217.73" x2="355.78" y2="217.73" stroke="#ff2020" stroke-width="0.6" />
<line x1="353.78" y1="222.44" x2="355.78" y2="222.44" stroke="#ff2020" stroke-width="0.6" />
<rect x="353.88" y="219.19" width="1.8" height="1.8" fill="#ff1010"/>
<line x1="360.02" y1="224.61" x2="360.02" y2="229.24" stroke="#ff2020" stroke-width="0.7" />
<line x1="359.02" y1="224.61" x2="361.02" y2="224.61" stroke="#ff2020" stroke-width="0.6" />
<line x1="359.02" y1="229.24" x2="361.02" y2="229.24" stroke="#ff2020" stroke-width="0.6" />
<rect x="359.12" y="226.03" width="1.8" height="1.8" fill="#ff1010"/>
<line x1="365.26" y1="234.39" x2="365.26" y2="238.91" stroke="#ff2020" stroke-width="0.7" />
<line x1="364.26" y1="234.39" x2="366.26" y2="234.39" stroke="#ff2020" stroke-width="0.6" />
<line x1="364.26" y1="238.91" x2="366.26" y2="238.91" stroke="#ff2020" stroke-width="0.6" />
<rect x="364.36" y="235.75" width="1.8" height="1.8" fill="#ff1010"/>
<line x1="370.51" y1="249.12" x2="370.51" y2="253.46" stroke="#ff2020" stroke-width="0.7" />
<line x1="369.51" y1="249.12" x2="371.51" y2="249.12" stroke="#ff2020" stroke-width="0.6" />
<line x1="369.51" y1="253.46" x2="371.51" y2="253.46" stroke="#ff2020" stroke-width="0.6" />
<rect x="369.61" y="250.39" width="1.8" height="1.8" fill="#ff1010"/>
<line x1="375.75" y1="266.63" x2="375.75" y2="270.77" stroke="#ff2020" stroke-width="0.7" />
<line x1="374.75" y1="266.63" x2="376.75" y2="266.63" stroke="#ff2020" stroke-width="0.6" />
<line x1="374.75" y1="270.77" x2="376.75" y2="270.77" stroke="#ff2020" stroke-width="0.6" />
<rect x="374.85" y="267.8" width="1.8" height="1.8" fill="#ff1010"/>
<line x1="381" y1="284.69" x2="381" y2="288.62" stroke="#ff2020" stroke-width="0.7" />
<line x1="380" y1="284.69" x2="382" y2="284.69" stroke="#ff2020" stroke-width="0.6" />
<line x1="380" y1="288.62" x2="382" y2="288.62" stroke="#ff2020" stroke-width="0.6" />
<rect x="380.1" y="285.75" width="1.8" height="1.8" fill="#ff1010"/>
<line x1="386.24" y1="301.41" x2="386.24" y2="305.15" stroke="#ff2020" stroke-width="0.7" />
<line x1="385.24" y1="301.41" x2="387.24" y2="301.41" stroke="#ff2020" stroke-width="0.6" />
<line x1="385.24" y1="305.15" x2="387.24" y2="305.15" stroke="#ff2020" stroke-width="0.6" />
<rect x="385.34" y="302.38" width="1.8" height="1.8" fill="#ff1010"/>
<line x1="391.48" y1="315.56" x2="391.48" y2="319.13" stroke="#ff2020" stroke-width="0.7" />
<line x1="390.48" y1="315.56" x2="392.48" y2="315.56" stroke="#ff2020" stroke-width="0.6" />
<line x1="390.48" y1="319.13" x2="392.48" y2="319.13" stroke="#ff2020" stroke-width="0.6" />
<rect x="390.58" y="316.45" width="1.8" height="1.8" fill="#ff1010"/>
<line x1="396.73" y1="326.62" x2="396.73" y2="330.06" stroke="#ff2020" stroke-width="0.7" />
<line x1="395.73" y1="326.62" x2="397.73" y2="326.62" stroke="#ff2020" stroke-width="0.6" />
<line x1="395.73" y1="330.06" x2="397.73" y2="330.06" stroke="#ff2020" stroke-width="0.6" />
<rect x="395.83" y="327.44" width="1.8" height="1.8" fill="#ff1010"/>
<line x1="401.97" y1="334.64" x2="401.97" y2="337.98" stroke="#ff2020" stroke-width="0.7" />
<line x1="400.97" y1="334.64" x2="402.97" y2="334.64" stroke="#ff2020" stroke-width="0.6" />
<line x1="400.97" y1="337.98" x2="402.97" y2="337.98" stroke="#ff2020" stroke-width="0.6" />
<rect x="401.07" y="335.41" width="1.8" height="1.8" fill="#ff1010"/>
<line x1="407.22" y1="340.06" x2="407.22" y2="343.34" stroke="#ff2020" stroke-width="0.7" />
<line x1="406.22" y1="340.06" x2="408.22" y2="340.06" stroke="#ff2020" stroke-width="0.6" />
<line x1="406.22" y1="343.34" x2="408.22" y2="343.34" stroke="#ff2020" stroke-width="0.6" />
<rect x="406.32" y="340.8" width="1.8" height="1.8" fill="#ff1010"/>
<line x1="412.46" y1="343.48" x2="412.46" y2="346.73" stroke="#ff2020" stroke-width="0.7" />
<line x1="411.46" y1="343.48" x2="413.46" y2="343.48" stroke="#ff2020" stroke-width="0.6" />
<line x1="411.46" y1="346.73" x2="413.46" y2="346.73" stroke="#ff2020" stroke-width="0.6" />
<rect x="411.56" y="344.2" width="1.8" height="1.8" fill="#ff1010"/>
<line x1="417.7" y1="345.51" x2="417.7" y2="348.73" stroke="#ff2020" stroke-width="0.7" />
<line x1="416.7" y1="345.51" x2="418.7" y2="345.51" stroke="#ff2020" stroke-width="0.6" />
<line x1="416.7" y1="348.73" x2="418.7" y2="348.73" stroke="#ff2020" stroke-width="0.6" />
<rect x="416.8" y="346.22" width="1.8" height="1.8" fill="#ff1010"/>
<line x1="422.95" y1="346.64" x2="422.95" y2="349.85" stroke="#ff2020" stroke-width="0.7" />
<line x1="421.95" y1="346.64" x2="423.95" y2="346.64" stroke="#ff2020" stroke-width="0.6" />
<line x1="421.95" y1="349.85" x2="423.95" y2="349.85" stroke="#ff2020" stroke-width="0.6" />
<rect x="422.05" y="347.34" width="1.8" height="1.8" fill="#ff1010"/>
<line x1="428.19" y1="347.23" x2="428.19" y2="350.43" stroke="#ff2020" stroke-width="0.7" />
<line x1="427.19" y1="347.23" x2="429.19" y2="347.23" stroke="#ff2020" stroke-width="0.6" />
<line x1="427.19" y1="350.43" x2="429.19" y2="350.43" stroke="#ff2020" stroke-width="0.6" />
<rect x="427.29" y="347.93" width="1.8" height="1.8" fill="#ff1010"/>
<line x1="433.44" y1="347.51" x2="433.44" y2="350.71" stroke="#ff2020" stroke-width="0.7" />
<line x1="432.44" y1="347.51" x2="434.44" y2="347.51" stroke="#ff2020" stroke-width="0.6" />
<line x1="432.44" y1="350.71" x2="434.44" y2="350.71" stroke="#ff2020" stroke-width="0.6" />
<rect x="432.54" y="348.21" width="1.8" height="1.8" fill="#ff1010"/>
<line x1="438.68" y1="347.64" x2="438.68" y2="350.85" stroke="#ff2020" stroke-width="0.7" />
<line x1="437.68" y1="347.64" x2="439.68" y2="347.64" stroke="#ff2020" stroke-width="0.6" />
<line x1="437.68" y1="350.85" x2="439.68" y2="350.85" stroke="#ff2020" stroke-width="0.6" />
<rect x="437.78" y="348.35" width="1.8" height="1.8" fill="#ff1010"/>
<polyline points="255.5,348.99 256.16,348.99 256.81,348.99 257.47,348.99 258.12,348.99 258.78,348.99 259.43,348.99 260.09,348.99 260.74,348.99 261.4,348.98 262.06,348.98 262.71,348.98 263.37,348.98 264.02,348.97 264.68,348.97 265.33,348.97 265.99,348.96 266.64,348.96 267.3,348.95 267.95,348.94 268.61,348.94 269.27,348.93 269.92,348.92 270.58,348.91 271.23,348.9 271.89,348.89 272.54,348.88 273.2,348.86 273.85,348.85 274.51,348.83 275.17,348.81 275.82,348.79 276.48,348.77 277.13,348.74 277.79,348.71 278.44,348.68 279.1,348.64 279.75,348.61 280.41,348.56 281.06,348.52 281.72,348.47 282.38,348.41 283.03,348.36 283.69,348.29 284.34,348.22 285,348.14 285.65,348.06 286.31,347.97 286.96,347.87 287.62,347.76 288.27,347.64 288.93,347.52 289.59,347.38 290.24,347.23 290.9,347.07 291.55,346.9 292.21,346.71 292.86,346.51 293.52,346.3 294.17,346.07 294.83,345.82 295.49,345.55 296.14,345.27 296.8,344.96 297.45,344.64 298.11,344.29 298.76,343.92 299.42,343.52 300.07,343.1 300.73,342.65 301.38,342.18 302.04,341.67 302.7,341.13 303.35,340.57 304.01,339.96 304.66,339.33 305.32,338.66 305.97,337.95 306.63,337.2 307.28,336.42 307.94,335.59 308.6,334.72 309.25,333.81 309.91,332.86 310.56,331.86 311.22,330.82 311.87,329.73 312.53,328.59 313.18,327.4 313.84,326.16 314.5,324.88 315.15,323.54 315.81,322.16 316.46,320.72 317.12,319.23 317.77,317.7 318.43,316.11 319.08,314.47 319.74,312.78 320.39,311.04 321.05,309.26 321.71,307.43 322.36,305.55 323.02,303.62 323.67,301.66 324.33,299.65 324.98,297.6 325.64,295.51 326.29,293.39 326.95,291.23 327.61,289.04 328.26,286.83 328.92,284.59 329.57,282.33 330.23,280.05 330.88,277.75 331.54,275.44 332.19,273.13 332.85,270.81 333.5,268.49 334.16,266.17 334.82,263.87 335.47,261.57 336.13,259.3 336.78,257.04 337.44,254.81 338.09,252.61 338.75,250.45 339.4,248.33 340.06,246.25 340.72,244.22 341.37,242.25 342.03,240.33 342.68,238.48 343.34,236.69 343.99,234.98 344.65,233.34 345.3,231.78 345.96,230.31 346.61,228.92 347.27,227.62 347.93,226.42 348.58,225.31 349.24,224.31 349.89,223.41 350.55,222.61 351.2,221.91 351.86,221.33 352.51,220.86 353.17,220.5 353.82,220.25 354.48,220.11 355.14,220.09 355.79,220.18 356.45,220.38 357.1,220.7 357.76,221.13 358.41,221.67 359.07,222.32 359.72,223.07 360.38,223.94 361.04,224.9 361.69,225.97 362.35,227.13 363,228.39 363.66,229.74 364.31,231.18 364.97,232.71 365.62,234.31 366.28,236 366.94,237.76 367.59,239.58 368.25,241.47 368.9,243.43 369.56,245.43 370.21,247.49 370.87,249.6 371.52,251.74 372.18,253.93 372.83,256.14 373.49,258.39 374.15,260.66 374.8,262.95 375.46,265.25 376.11,267.56 376.77,269.88 377.42,272.2 378.08,274.52 378.73,276.83 379.39,279.13 380.05,281.42 380.7,283.69 381.36,285.94 382.01,288.16 382.67,290.36 383.32,292.53 383.98,294.67 384.63,296.77 385.29,298.83 385.94,300.86 386.6,302.84 387.26,304.78 387.91,306.68 388.57,308.53 389.22,310.34 389.88,312.09 390.53,313.8 391.19,315.46 391.84,317.07 392.5,318.62 393.15,320.13 393.81,321.59 394.47,322.99 395.12,324.35 395.78,325.66 396.43,326.91 397.09,328.12 397.74,329.28 398.4,330.39 399.05,331.45 399.71,332.47 400.37,333.44 401.02,334.37 401.68,335.25 402.33,336.09 402.99,336.89 403.64,337.66 404.3,338.38 404.95,339.06 405.61,339.71 406.26,340.33 406.92,340.91 407.58,341.46 408.23,341.98 408.89,342.47 409.54,342.92 410.2,343.36 410.85,343.76 411.51,344.14 412.16,344.5 412.82,344.84 413.48,345.15 414.13,345.44 414.79,345.72 415.44,345.97 416.1,346.21 416.75,346.43 417.41,346.64 418.06,346.83 418.72,347 419.38,347.17 420.03,347.32 420.69,347.46 421.34,347.59 422,347.71 422.65,347.83 423.31,347.93 423.96,348.02 424.62,348.11 425.27,348.19 425.93,348.26 426.59,348.33 427.24,348.39 427.9,348.45 428.55,348.5 429.21,348.55 429.86,348.59 430.52,348.63 431.17,348.67 431.83,348.7 432.49,348.73 433.14,348.76 433.8,348.78 434.45,348.8 435.11,348.82 435.76,348.84 436.42,348.86 437.07,348.87 437.73,348.89 438.38,348.9 439.04,348.91 439.7,348.92 440.35,348.93 441.01,348.93 441.66,348.94 442.32,348.95 442.97,348.95 443.63,348.96 444.28,348.96 444.94,348.97 445.6,348.97 446.25,348.97 446.91,348.98 447.56,348.98 448.22,348.98 448.87,348.98 449.53,348.99 450.18,348.99 450.84,348.99 451.49,348.99 452.15,348.99" fill="none" stroke="#111" stroke-width="0.9" />
<rect x="255.3" y="212.5" width="196.7" height="144.8" fill="none" stroke="#a6a6a6" stroke-width="1" />
<line x1="281.72" y1="357.3" x2="281.72" y2="355.3" stroke="#a6a6a6" stroke-width="0.7" />
<line x1="281.72" y1="212.5" x2="281.72" y2="214.5" stroke="#a6a6a6" stroke-width="0.7" />
<line x1="307.94" y1="357.3" x2="307.94" y2="355.3" stroke="#a6a6a6" stroke-width="0.7" />
<line x1="307.94" y1="212.5" x2="307.94" y2="214.5" stroke="#a6a6a6" stroke-width="0.7" />
<line x1="334.16" y1="357.3" x2="334.16" y2="355.3" stroke="#a6a6a6" stroke-width="0.7" />
<line x1="334.16" y1="212.5" x2="334.16" y2="214.5" stroke="#a6a6a6" stroke-width="0.7" />
<line x1="360.38" y1="357.3" x2="360.38" y2="355.3" stroke="#a6a6a6" stroke-width="0.7" />
<line x1="360.38" y1="212.5" x2="360.38" y2="214.5" stroke="#a6a6a6" stroke-width="0.7" />
<line x1="386.6" y1="357.3" x2="386.6" y2="355.3" stroke="#a6a6a6" stroke-width="0.7" />
<line x1="386.6" y1="212.5" x2="386.6" y2="214.5" stroke="#a6a6a6" stroke-width="0.7" />
<line x1="412.82" y1="357.3" x2="412.82" y2="355.3" stroke="#a6a6a6" stroke-width="0.7" />
<line x1="412.82" y1="212.5" x2="412.82" y2="214.5" stroke="#a6a6a6" stroke-width="0.7" />
<line x1="439.04" y1="357.3" x2="439.04" y2="355.3" stroke="#a6a6a6" stroke-width="0.7" />
<line x1="439.04" y1="212.5" x2="439.04" y2="214.5" stroke="#a6a6a6" stroke-width="0.7" />
<line x1="255.3" y1="246.55" x2="257.3" y2="246.55" stroke="#a6a6a6" stroke-width="0.7" />
<line x1="452" y1="246.55" x2="450" y2="246.55" stroke="#a6a6a6" stroke-width="0.7" />
<line x1="255.3" y1="280.7" x2="257.3" y2="280.7" stroke="#a6a6a6" stroke-width="0.7" />
<line x1="452" y1="280.7" x2="450" y2="280.7" stroke="#a6a6a6" stroke-width="0.7" />
<line x1="255.3" y1="314.85" x2="257.3" y2="314.85" stroke="#a6a6a6" stroke-width="0.7" />
<line x1="452" y1="314.85" x2="450" y2="314.85" stroke="#a6a6a6" stroke-width="0.7" />
<line x1="255.3" y1="349" x2="257.3" y2="349" stroke="#a6a6a6" stroke-width="0.7" />
<line x1="452" y1="349" x2="450" y2="349" stroke="#a6a6a6" stroke-width="0.7" />
<text x="251.8" y="215.7" font-size="9.2" text-anchor="end" fill="#262626" stroke="#262626" stroke-width="0.2" >-<tspan dx="0.9">800</tspan></text>
<text x="251.8" y="249.85" font-size="9.2" text-anchor="end" fill="#262626" stroke="#262626" stroke-width="0.2" >-<tspan dx="0.9">600</tspan></text>
<text x="251.8" y="284" font-size="9.2" text-anchor="end" fill="#262626" stroke="#262626" stroke-width="0.2" >-<tspan dx="0.9">400</tspan></text>
<text x="251.8" y="318.15" font-size="9.2" text-anchor="end" fill="#262626" stroke="#262626" stroke-width="0.2" >-<tspan dx="0.9">200</tspan></text>
<text x="251.8" y="352.3" font-size="9.2" text-anchor="end" fill="#262626" stroke="#262626" stroke-width="0.2" >0</text>
<text x="255.5" y="369.9" font-size="9.2" text-anchor="middle" fill="#262626" stroke="#262626" stroke-width="0.2" >0</text>
<text x="281.72" y="369.9" font-size="9.2" text-anchor="middle" fill="#262626" stroke="#262626" stroke-width="0.2" >0.4</text>
<text x="307.94" y="369.9" font-size="9.2" text-anchor="middle" fill="#262626" stroke="#262626" stroke-width="0.2" >0.8</text>
<text x="334.16" y="369.9" font-size="9.2" text-anchor="middle" fill="#262626" stroke="#262626" stroke-width="0.2" >1.2</text>
<text x="360.38" y="369.9" font-size="9.2" text-anchor="middle" fill="#262626" stroke="#262626" stroke-width="0.2" >1.6</text>
<text x="386.6" y="369.9" font-size="9.2" text-anchor="middle" fill="#262626" stroke="#262626" stroke-width="0.2" >2</text>
<text x="412.82" y="369.9" font-size="9.2" text-anchor="middle" fill="#262626" stroke="#262626" stroke-width="0.2" >2.4</text>
<text x="439.04" y="369.9" font-size="9.2" text-anchor="middle" fill="#262626" stroke="#262626" stroke-width="0.2" >2.8</text>
<text x="353.2" y="382.6" font-size="10" text-anchor="middle" fill="#262626" stroke="#262626" stroke-width="0.2" >Laser beam position (<tspan font-style="italic">µ</tspan>m)</text>
<text transform="translate(228.6,278.4) rotate(-90)" font-size="9.3" text-anchor="middle" fill="#262626" stroke="#262626" stroke-width="0.2">Frequency shift (Hz)</text>
<rect x="369.8" y="217.7" width="76.7" height="24.2" fill="#fff" stroke="#a6a6a6" stroke-width="0.8" />
<line x1="378.8" y1="220.8" x2="378.8" y2="228.4" stroke="#f02020" stroke-width="0.8" />
<line x1="377.6" y1="220.8" x2="380" y2="220.8" stroke="#f02020" stroke-width="0.8" />
<line x1="377.6" y1="228.4" x2="380" y2="228.4" stroke="#f02020" stroke-width="0.8" />
<rect x="377.9" y="223.7" width="1.8" height="1.8" fill="#f02020"/>
<line x1="371" y1="235.7" x2="386.5" y2="235.7" stroke="#111" stroke-width="0.9" />
<text x="388.4" y="228.4" font-size="9.2" text-anchor="start" fill="#262626" stroke="#262626" stroke-width="0.2" >Measurement</text>
<text x="388.4" y="239" font-size="9.2" text-anchor="start" fill="#262626" stroke="#262626" stroke-width="0.2" >Gaussian fit</text>
<line x1="530.18" y1="21.8" x2="530.18" y2="168.4" stroke="#eeeeee" stroke-width="0.8" />
<line x1="562.67" y1="21.8" x2="562.67" y2="168.4" stroke="#eeeeee" stroke-width="0.8" />
<line x1="595.15" y1="21.8" x2="595.15" y2="168.4" stroke="#eeeeee" stroke-width="0.8" />
<line x1="627.64" y1="21.8" x2="627.64" y2="168.4" stroke="#eeeeee" stroke-width="0.8" />
<line x1="660.12" y1="21.8" x2="660.12" y2="168.4" stroke="#eeeeee" stroke-width="0.8" />
<line x1="497.7" y1="46.23" x2="692.6" y2="46.23" stroke="#eeeeee" stroke-width="0.8" />
<line x1="497.7" y1="70.66" x2="692.6" y2="70.66" stroke="#eeeeee" stroke-width="0.8" />
<line x1="497.7" y1="95.1" x2="692.6" y2="95.1" stroke="#eeeeee" stroke-width="0.8" />
<line x1="497.7" y1="119.53" x2="692.6" y2="119.53" stroke="#eeeeee" stroke-width="0.8" />
<line x1="497.7" y1="143.97" x2="692.6" y2="143.97" stroke="#eeeeee" stroke-width="0.8" />
<polyline points="497.7,95.09 498.35,95.09 499,95.09 499.65,95.09 500.3,95.08 500.95,95.08 501.6,95.08 502.25,95.08 502.9,95.07 503.55,95.07 504.2,95.07 504.85,95.06 505.5,95.06 506.15,95.05 506.8,95.04 507.45,95.04 508.1,95.03 508.74,95.02 509.39,95.01 510.04,95 510.69,94.98 511.34,94.97 511.99,94.95 512.64,94.93 513.29,94.91 513.94,94.89 514.59,94.87 515.24,94.84 515.89,94.81 516.54,94.77 517.19,94.74 517.84,94.7 518.49,94.65 519.14,94.6 519.79,94.55 520.44,94.49 521.09,94.42 521.74,94.35 522.39,94.27 523.04,94.19 523.69,94.09 524.34,93.99 524.99,93.88 525.64,93.76 526.29,93.62 526.94,93.48 527.59,93.33 528.24,93.16 528.89,92.98 529.54,92.78 530.18,92.57 530.83,92.34 531.48,92.09 532.13,91.83 532.78,91.55 533.43,91.24 534.08,90.92 534.73,90.57 535.38,90.2 536.03,89.8 536.68,89.37 537.33,88.92 537.98,88.44 538.63,87.93 539.28,87.4 539.93,86.82 540.58,86.22 541.23,85.58 541.88,84.91 542.53,84.2 543.18,83.46 543.83,82.68 544.48,81.86 545.13,81 545.78,80.1 546.43,79.16 547.08,78.19 547.73,77.17 548.38,76.11 549.03,75.02 549.68,73.88 550.33,72.71 550.98,71.5 551.63,70.25 552.27,68.97 552.92,67.65 553.57,66.3 554.22,64.92 554.87,63.51 555.52,62.07 556.17,60.61 556.82,59.13 557.47,57.63 558.12,56.11 558.77,54.58 559.42,53.05 560.07,51.51 560.72,49.97 561.37,48.44 562.02,46.92 562.67,45.41 563.32,43.93 563.97,42.47 564.62,41.04 565.27,39.65 565.92,38.3 566.57,36.99 567.22,35.75 567.87,34.56 568.52,33.44 569.17,32.39 569.82,31.42 570.47,30.54 571.12,29.74 571.77,29.04 572.42,28.44 573.07,27.95 573.71,27.58 574.36,27.32 575.01,27.18 575.66,27.16 576.31,27.28 576.96,27.53 577.61,27.92 578.26,28.45 578.91,29.12 579.56,29.93 580.21,30.89 580.86,32 581.51,33.25 582.16,34.65 582.81,36.19 583.46,37.88 584.11,39.71 584.76,41.67 585.41,43.78 586.06,46.01 586.71,48.38 587.36,50.86 588.01,53.47 588.66,56.18 589.31,59.01 589.96,61.93 590.61,64.94 591.26,68.03 591.91,71.2 592.56,74.44 593.21,77.74 593.86,81.08 594.51,84.46 595.15,87.88 595.8,91.31 596.45,94.76 597.1,98.2 597.75,101.64 598.4,105.06 599.05,108.45 599.7,111.8 600.35,115.1 601,118.35 601.65,121.54 602.3,124.65 602.95,127.68 603.6,130.62 604.25,133.46 604.9,136.2 605.55,138.82 606.2,141.34 606.85,143.72 607.5,145.99 608.15,148.12 608.8,150.11 609.45,151.97 610.1,153.68 610.75,155.26 611.4,156.68 612.05,157.96 612.7,159.1 613.35,160.09 614,160.93 614.65,161.63 615.3,162.18 615.95,162.6 616.6,162.88 617.24,163.02 617.89,163.04 618.54,162.92 619.19,162.69 619.84,162.33 620.49,161.86 621.14,161.29 621.79,160.61 622.44,159.83 623.09,158.96 623.74,158.01 624.39,156.98 625.04,155.87 625.69,154.7 626.34,153.46 626.99,152.17 627.64,150.83 628.29,149.44 628.94,148.02 629.59,146.57 630.24,145.08 630.89,143.58 631.54,142.06 632.19,140.53 632.84,139 633.49,137.46 634.14,135.92 634.79,134.39 635.44,132.88 636.09,131.37 636.74,129.89 637.39,128.42 638.04,126.98 638.68,125.56 639.33,124.17 639.98,122.82 640.63,121.49 641.28,120.2 641.93,118.95 642.58,117.73 643.23,116.55 643.88,115.41 644.53,114.3 645.18,113.24 645.83,112.21 646.48,111.23 647.13,110.28 647.78,109.38 648.43,108.51 649.08,107.69 649.73,106.9 650.38,106.14 651.03,105.43 651.68,104.75 652.33,104.1 652.98,103.49 653.63,102.92 654.28,102.37 654.93,101.86 655.58,101.37 656.23,100.91 656.88,100.48 657.53,100.08 658.18,99.7 658.83,99.35 659.48,99.02 660.12,98.71 660.77,98.42 661.42,98.16 662.07,97.91 662.72,97.68 663.37,97.46 664.02,97.26 664.67,97.08 665.32,96.91 665.97,96.75 666.62,96.6 667.27,96.47 667.92,96.35 668.57,96.23 669.22,96.13 669.87,96.03 670.52,95.95 671.17,95.86 671.82,95.79 672.47,95.72 673.12,95.66 673.77,95.61 674.42,95.56 675.07,95.51 675.72,95.47 676.37,95.43 677.02,95.4 677.67,95.37 678.32,95.34 678.97,95.31 679.62,95.29 680.27,95.27 680.92,95.25 681.57,95.24 682.21,95.22 682.86,95.21 683.51,95.2 684.16,95.18 684.81,95.17 685.46,95.17 686.11,95.16 686.76,95.15 687.41,95.15 688.06,95.14 688.71,95.14 689.36,95.13 690.01,95.13 690.66,95.12 691.31,95.12 691.96,95.12 692.61,95.12" fill="none" stroke="#404040" stroke-width="0.9" />
<circle cx="505.4" cy="94.9" r="1.65" fill="none" stroke="#f45050" stroke-width="0.7"/>
<circle cx="510.6" cy="94.9" r="1.65" fill="none" stroke="#f45050" stroke-width="0.7"/>
<circle cx="515.8" cy="94.9" r="1.65" fill="none" stroke="#f45050" stroke-width="0.7"/>
<circle cx="520.9" cy="94.1" r="1.65" fill="none" stroke="#f45050" stroke-width="0.7"/>
<circle cx="526.1" cy="92.6" r="1.65" fill="none" stroke="#f45050" stroke-width="0.7"/>
<circle cx="531.3" cy="91" r="1.65" fill="none" stroke="#f45050" stroke-width="0.7"/>
<circle cx="536.5" cy="87.9" r="1.65" fill="none" stroke="#f45050" stroke-width="0.7"/>
<circle cx="541.6" cy="83.3" r="1.65" fill="none" stroke="#f45050" stroke-width="0.7"/>
<circle cx="546.8" cy="75.8" r="1.65" fill="none" stroke="#f45050" stroke-width="0.7"/>
<circle cx="551.95" cy="65.8" r="1.65" fill="none" stroke="#f45050" stroke-width="0.7"/>
<circle cx="557.1" cy="54" r="1.65" fill="none" stroke="#f45050" stroke-width="0.7"/>
<circle cx="562.3" cy="42.8" r="1.65" fill="none" stroke="#f45050" stroke-width="0.7"/>
<circle cx="567.5" cy="33.1" r="1.65" fill="none" stroke="#f45050" stroke-width="0.7"/>
<circle cx="572.7" cy="30.7" r="1.65" fill="none" stroke="#f45050" stroke-width="0.7"/>
<circle cx="577.9" cy="27.8" r="1.65" fill="none" stroke="#f45050" stroke-width="0.7"/>
<circle cx="583" cy="39.4" r="1.65" fill="none" stroke="#f45050" stroke-width="0.7"/>
<circle cx="588.2" cy="65" r="1.65" fill="none" stroke="#f45050" stroke-width="0.7"/>
<circle cx="593.4" cy="79" r="1.65" fill="none" stroke="#f45050" stroke-width="0.7"/>
<circle cx="598.6" cy="111.3" r="1.65" fill="none" stroke="#f45050" stroke-width="0.7"/>
<circle cx="603.8" cy="122.7" r="1.65" fill="none" stroke="#f45050" stroke-width="0.7"/>
<circle cx="609" cy="156.5" r="1.65" fill="none" stroke="#f45050" stroke-width="0.7"/>
<circle cx="614.1" cy="151.9" r="1.65" fill="none" stroke="#f45050" stroke-width="0.7"/>
<circle cx="619.3" cy="165.6" r="1.65" fill="none" stroke="#f45050" stroke-width="0.7"/>
<circle cx="624.5" cy="157.1" r="1.65" fill="none" stroke="#f45050" stroke-width="0.7"/>
<circle cx="629.7" cy="155" r="1.65" fill="none" stroke="#f45050" stroke-width="0.7"/>
<circle cx="634.8" cy="140.5" r="1.65" fill="none" stroke="#f45050" stroke-width="0.7"/>
<circle cx="640" cy="122.7" r="1.65" fill="none" stroke="#f45050" stroke-width="0.7"/>
<circle cx="645.2" cy="110" r="1.65" fill="none" stroke="#f45050" stroke-width="0.7"/>
<circle cx="650.3" cy="101.2" r="1.65" fill="none" stroke="#f45050" stroke-width="0.7"/>
<circle cx="655.5" cy="97.1" r="1.65" fill="none" stroke="#f45050" stroke-width="0.7"/>
<circle cx="660.7" cy="97.1" r="1.65" fill="none" stroke="#f45050" stroke-width="0.7"/>
<circle cx="665.9" cy="95.8" r="1.65" fill="none" stroke="#f45050" stroke-width="0.7"/>
<circle cx="671" cy="95.5" r="1.65" fill="none" stroke="#f45050" stroke-width="0.7"/>
<circle cx="676.2" cy="97.1" r="1.65" fill="none" stroke="#f45050" stroke-width="0.7"/>
<rect x="497.7" y="21.8" width="194.9" height="146.6" fill="none" stroke="#a6a6a6" stroke-width="1" />
<line x1="530.18" y1="168.4" x2="530.18" y2="166.4" stroke="#a6a6a6" stroke-width="0.7" />
<line x1="530.18" y1="21.8" x2="530.18" y2="23.8" stroke="#a6a6a6" stroke-width="0.7" />
<line x1="562.67" y1="168.4" x2="562.67" y2="166.4" stroke="#a6a6a6" stroke-width="0.7" />
<line x1="562.67" y1="21.8" x2="562.67" y2="23.8" stroke="#a6a6a6" stroke-width="0.7" />
<line x1="595.15" y1="168.4" x2="595.15" y2="166.4" stroke="#a6a6a6" stroke-width="0.7" />
<line x1="595.15" y1="21.8" x2="595.15" y2="23.8" stroke="#a6a6a6" stroke-width="0.7" />
<line x1="627.64" y1="168.4" x2="627.64" y2="166.4" stroke="#a6a6a6" stroke-width="0.7" />
<line x1="627.64" y1="21.8" x2="627.64" y2="23.8" stroke="#a6a6a6" stroke-width="0.7" />
<line x1="660.12" y1="168.4" x2="660.12" y2="166.4" stroke="#a6a6a6" stroke-width="0.7" />
<line x1="660.12" y1="21.8" x2="660.12" y2="23.8" stroke="#a6a6a6" stroke-width="0.7" />
<line x1="497.7" y1="46.23" x2="499.7" y2="46.23" stroke="#a6a6a6" stroke-width="0.7" />
<line x1="692.6" y1="46.23" x2="690.6" y2="46.23" stroke="#a6a6a6" stroke-width="0.7" />
<line x1="497.7" y1="70.66" x2="499.7" y2="70.66" stroke="#a6a6a6" stroke-width="0.7" />
<line x1="692.6" y1="70.66" x2="690.6" y2="70.66" stroke="#a6a6a6" stroke-width="0.7" />
<line x1="497.7" y1="95.1" x2="499.7" y2="95.1" stroke="#a6a6a6" stroke-width="0.7" />
<line x1="692.6" y1="95.1" x2="690.6" y2="95.1" stroke="#a6a6a6" stroke-width="0.7" />
<line x1="497.7" y1="119.53" x2="499.7" y2="119.53" stroke="#a6a6a6" stroke-width="0.7" />
<line x1="692.6" y1="119.53" x2="690.6" y2="119.53" stroke="#a6a6a6" stroke-width="0.7" />
<line x1="497.7" y1="143.97" x2="499.7" y2="143.97" stroke="#a6a6a6" stroke-width="0.7" />
<line x1="692.6" y1="143.97" x2="690.6" y2="143.97" stroke="#a6a6a6" stroke-width="0.7" />
<text x="494.3" y="25.1" font-size="9.2" text-anchor="end" fill="#262626" stroke="#262626" stroke-width="0.2" >1500</text>
<text x="494.3" y="49.53" font-size="9.2" text-anchor="end" fill="#262626" stroke="#262626" stroke-width="0.2" >1000</text>
<text x="494.3" y="73.96" font-size="9.2" text-anchor="end" fill="#262626" stroke="#262626" stroke-width="0.2" >500</text>
<text x="494.3" y="98.4" font-size="9.2" text-anchor="end" fill="#262626" stroke="#262626" stroke-width="0.2" >0</text>
<text x="494.3" y="122.83" font-size="9.2" text-anchor="end" fill="#262626" stroke="#262626" stroke-width="0.2" >-<tspan dx="0.9">500</tspan></text>
<text x="494.3" y="147.27" font-size="9.2" text-anchor="end" fill="#262626" stroke="#262626" stroke-width="0.2" >-<tspan dx="0.9">1000</tspan></text>
<text x="494.3" y="171.7" font-size="9.2" text-anchor="end" fill="#262626" stroke="#262626" stroke-width="0.2" >-<tspan dx="0.9">1500</tspan></text>
<text x="497.7" y="181" font-size="9.2" text-anchor="middle" fill="#262626" stroke="#262626" stroke-width="0.2" >0</text>
<text x="530.18" y="181" font-size="9.2" text-anchor="middle" fill="#262626" stroke="#262626" stroke-width="0.2" >0.5</text>
<text x="562.67" y="181" font-size="9.2" text-anchor="middle" fill="#262626" stroke="#262626" stroke-width="0.2" >1</text>
<text x="595.15" y="181" font-size="9.2" text-anchor="middle" fill="#262626" stroke="#262626" stroke-width="0.2" >1.5</text>
<text x="627.64" y="181" font-size="9.2" text-anchor="middle" fill="#262626" stroke="#262626" stroke-width="0.2" >2</text>
<text x="660.12" y="181" font-size="9.2" text-anchor="middle" fill="#262626" stroke="#262626" stroke-width="0.2" >2.5</text>
<text x="692.61" y="181" font-size="9.2" text-anchor="middle" fill="#262626" stroke="#262626" stroke-width="0.2" >3</text>
<text x="595" y="194.3" font-size="9.7" text-anchor="middle" fill="#262626" stroke="#262626" stroke-width="0.2" >Laser beam position (<tspan font-style="italic">µ</tspan>m)</text>
<text transform="translate(466,93.9) rotate(-90)" font-size="10.2" text-anchor="middle" fill="#262626" stroke="#262626" stroke-width="0.2">Responsivity (Hz/<tspan font-style="italic">µ</tspan>m)</text>
<rect x="606.5" y="26.5" width="81" height="26.8" fill="#fff" stroke="#a6a6a6" stroke-width="0.8" />
<circle cx="616.1" cy="33.6" r="1.4" fill="none" stroke="#f45050" stroke-width="0.7"/>
<line x1="609.3" y1="45.7" x2="623.6" y2="45.7" stroke="#404040" stroke-width="0.8" />
<text x="625.7" y="37.9" font-size="9.65" text-anchor="start" fill="#262626" stroke="#262626" stroke-width="0.2" >Measurement</text>
<text x="625.7" y="49.3" font-size="9.65" text-anchor="start" fill="#262626" stroke="#262626" stroke-width="0.2" >Gaussian fit</text>
<line x1="495.6" y1="210.5" x2="495.6" y2="358.6" stroke="#d2d2d2" stroke-width="0.6" stroke-dasharray="0.7,1.3"/>
<line x1="502.99" y1="210.5" x2="502.99" y2="358.6" stroke="#d2d2d2" stroke-width="0.6" stroke-dasharray="0.7,1.3"/>
<line x1="508.23" y1="210.5" x2="508.23" y2="358.6" stroke="#d2d2d2" stroke-width="0.6" stroke-dasharray="0.7,1.3"/>
<line x1="512.3" y1="210.5" x2="512.3" y2="358.6" stroke="#d2d2d2" stroke-width="0.6" stroke-dasharray="0.7,1.3"/>
<line x1="515.62" y1="210.5" x2="515.62" y2="358.6" stroke="#d2d2d2" stroke-width="0.6" stroke-dasharray="0.7,1.3"/>
<line x1="518.43" y1="210.5" x2="518.43" y2="358.6" stroke="#d2d2d2" stroke-width="0.6" stroke-dasharray="0.7,1.3"/>
<line x1="520.87" y1="210.5" x2="520.87" y2="358.6" stroke="#d2d2d2" stroke-width="0.6" stroke-dasharray="0.7,1.3"/>
<line x1="523.01" y1="210.5" x2="523.01" y2="358.6" stroke="#d2d2d2" stroke-width="0.6" stroke-dasharray="0.7,1.3"/>
<line x1="537.57" y1="210.5" x2="537.57" y2="358.6" stroke="#d2d2d2" stroke-width="0.6" stroke-dasharray="0.7,1.3"/>
<line x1="544.96" y1="210.5" x2="544.96" y2="358.6" stroke="#d2d2d2" stroke-width="0.6" stroke-dasharray="0.7,1.3"/>
<line x1="550.2" y1="210.5" x2="550.2" y2="358.6" stroke="#d2d2d2" stroke-width="0.6" stroke-dasharray="0.7,1.3"/>
<line x1="554.27" y1="210.5" x2="554.27" y2="358.6" stroke="#d2d2d2" stroke-width="0.6" stroke-dasharray="0.7,1.3"/>
<line x1="557.59" y1="210.5" x2="557.59" y2="358.6" stroke="#d2d2d2" stroke-width="0.6" stroke-dasharray="0.7,1.3"/>
<line x1="560.4" y1="210.5" x2="560.4" y2="358.6" stroke="#d2d2d2" stroke-width="0.6" stroke-dasharray="0.7,1.3"/>
<line x1="562.83" y1="210.5" x2="562.83" y2="358.6" stroke="#d2d2d2" stroke-width="0.6" stroke-dasharray="0.7,1.3"/>
<line x1="564.98" y1="210.5" x2="564.98" y2="358.6" stroke="#d2d2d2" stroke-width="0.6" stroke-dasharray="0.7,1.3"/>
<line x1="579.53" y1="210.5" x2="579.53" y2="358.6" stroke="#d2d2d2" stroke-width="0.6" stroke-dasharray="0.7,1.3"/>
<line x1="586.92" y1="210.5" x2="586.92" y2="358.6" stroke="#d2d2d2" stroke-width="0.6" stroke-dasharray="0.7,1.3"/>
<line x1="592.17" y1="210.5" x2="592.17" y2="358.6" stroke="#d2d2d2" stroke-width="0.6" stroke-dasharray="0.7,1.3"/>
<line x1="596.23" y1="210.5" x2="596.23" y2="358.6" stroke="#d2d2d2" stroke-width="0.6" stroke-dasharray="0.7,1.3"/>
<line x1="599.56" y1="210.5" x2="599.56" y2="358.6" stroke="#d2d2d2" stroke-width="0.6" stroke-dasharray="0.7,1.3"/>
<line x1="602.37" y1="210.5" x2="602.37" y2="358.6" stroke="#d2d2d2" stroke-width="0.6" stroke-dasharray="0.7,1.3"/>
<line x1="604.8" y1="210.5" x2="604.8" y2="358.6" stroke="#d2d2d2" stroke-width="0.6" stroke-dasharray="0.7,1.3"/>
<line x1="606.95" y1="210.5" x2="606.95" y2="358.6" stroke="#d2d2d2" stroke-width="0.6" stroke-dasharray="0.7,1.3"/>
<line x1="621.5" y1="210.5" x2="621.5" y2="358.6" stroke="#d2d2d2" stroke-width="0.6" stroke-dasharray="0.7,1.3"/>
<line x1="628.89" y1="210.5" x2="628.89" y2="358.6" stroke="#d2d2d2" stroke-width="0.6" stroke-dasharray="0.7,1.3"/>
<line x1="634.13" y1="210.5" x2="634.13" y2="358.6" stroke="#d2d2d2" stroke-width="0.6" stroke-dasharray="0.7,1.3"/>
<line x1="638.2" y1="210.5" x2="638.2" y2="358.6" stroke="#d2d2d2" stroke-width="0.6" stroke-dasharray="0.7,1.3"/>
<line x1="641.52" y1="210.5" x2="641.52" y2="358.6" stroke="#d2d2d2" stroke-width="0.6" stroke-dasharray="0.7,1.3"/>
<line x1="644.33" y1="210.5" x2="644.33" y2="358.6" stroke="#d2d2d2" stroke-width="0.6" stroke-dasharray="0.7,1.3"/>
<line x1="646.77" y1="210.5" x2="646.77" y2="358.6" stroke="#d2d2d2" stroke-width="0.6" stroke-dasharray="0.7,1.3"/>
<line x1="648.91" y1="210.5" x2="648.91" y2="358.6" stroke="#d2d2d2" stroke-width="0.6" stroke-dasharray="0.7,1.3"/>
<line x1="663.47" y1="210.5" x2="663.47" y2="358.6" stroke="#d2d2d2" stroke-width="0.6" stroke-dasharray="0.7,1.3"/>
<line x1="670.86" y1="210.5" x2="670.86" y2="358.6" stroke="#d2d2d2" stroke-width="0.6" stroke-dasharray="0.7,1.3"/>
<line x1="676.1" y1="210.5" x2="676.1" y2="358.6" stroke="#d2d2d2" stroke-width="0.6" stroke-dasharray="0.7,1.3"/>
<line x1="680.17" y1="210.5" x2="680.17" y2="358.6" stroke="#d2d2d2" stroke-width="0.6" stroke-dasharray="0.7,1.3"/>
<line x1="683.49" y1="210.5" x2="683.49" y2="358.6" stroke="#d2d2d2" stroke-width="0.6" stroke-dasharray="0.7,1.3"/>
<line x1="686.3" y1="210.5" x2="686.3" y2="358.6" stroke="#d2d2d2" stroke-width="0.6" stroke-dasharray="0.7,1.3"/>
<line x1="688.73" y1="210.5" x2="688.73" y2="358.6" stroke="#d2d2d2" stroke-width="0.6" stroke-dasharray="0.7,1.3"/>
<line x1="690.88" y1="210.5" x2="690.88" y2="358.6" stroke="#d2d2d2" stroke-width="0.6" stroke-dasharray="0.7,1.3"/>
<line x1="495.6" y1="351.17" x2="692.8" y2="351.17" stroke="#d2d2d2" stroke-width="0.6" stroke-dasharray="0.7,1.3"/>
<line x1="495.6" y1="346.82" x2="692.8" y2="346.82" stroke="#d2d2d2" stroke-width="0.6" stroke-dasharray="0.7,1.3"/>
<line x1="495.6" y1="343.74" x2="692.8" y2="343.74" stroke="#d2d2d2" stroke-width="0.6" stroke-dasharray="0.7,1.3"/>
<line x1="495.6" y1="341.35" x2="692.8" y2="341.35" stroke="#d2d2d2" stroke-width="0.6" stroke-dasharray="0.7,1.3"/>
<line x1="495.6" y1="339.39" x2="692.8" y2="339.39" stroke="#d2d2d2" stroke-width="0.6" stroke-dasharray="0.7,1.3"/>
<line x1="495.6" y1="337.74" x2="692.8" y2="337.74" stroke="#d2d2d2" stroke-width="0.6" stroke-dasharray="0.7,1.3"/>
<line x1="495.6" y1="336.31" x2="692.8" y2="336.31" stroke="#d2d2d2" stroke-width="0.6" stroke-dasharray="0.7,1.3"/>
<line x1="495.6" y1="335.05" x2="692.8" y2="335.05" stroke="#d2d2d2" stroke-width="0.6" stroke-dasharray="0.7,1.3"/>
<line x1="495.6" y1="326.49" x2="692.8" y2="326.49" stroke="#d2d2d2" stroke-width="0.6" stroke-dasharray="0.7,1.3"/>
<line x1="495.6" y1="322.14" x2="692.8" y2="322.14" stroke="#d2d2d2" stroke-width="0.6" stroke-dasharray="0.7,1.3"/>
<line x1="495.6" y1="319.06" x2="692.8" y2="319.06" stroke="#d2d2d2" stroke-width="0.6" stroke-dasharray="0.7,1.3"/>
<line x1="495.6" y1="316.66" x2="692.8" y2="316.66" stroke="#d2d2d2" stroke-width="0.6" stroke-dasharray="0.7,1.3"/>
<line x1="495.6" y1="314.71" x2="692.8" y2="314.71" stroke="#d2d2d2" stroke-width="0.6" stroke-dasharray="0.7,1.3"/>
<line x1="495.6" y1="313.06" x2="692.8" y2="313.06" stroke="#d2d2d2" stroke-width="0.6" stroke-dasharray="0.7,1.3"/>
<line x1="495.6" y1="311.63" x2="692.8" y2="311.63" stroke="#d2d2d2" stroke-width="0.6" stroke-dasharray="0.7,1.3"/>
<line x1="495.6" y1="310.36" x2="692.8" y2="310.36" stroke="#d2d2d2" stroke-width="0.6" stroke-dasharray="0.7,1.3"/>
<line x1="495.6" y1="301.8" x2="692.8" y2="301.8" stroke="#d2d2d2" stroke-width="0.6" stroke-dasharray="0.7,1.3"/>
<line x1="495.6" y1="297.46" x2="692.8" y2="297.46" stroke="#d2d2d2" stroke-width="0.6" stroke-dasharray="0.7,1.3"/>
<line x1="495.6" y1="294.37" x2="692.8" y2="294.37" stroke="#d2d2d2" stroke-width="0.6" stroke-dasharray="0.7,1.3"/>
<line x1="495.6" y1="291.98" x2="692.8" y2="291.98" stroke="#d2d2d2" stroke-width="0.6" stroke-dasharray="0.7,1.3"/>
<line x1="495.6" y1="290.03" x2="692.8" y2="290.03" stroke="#d2d2d2" stroke-width="0.6" stroke-dasharray="0.7,1.3"/>
<line x1="495.6" y1="288.37" x2="692.8" y2="288.37" stroke="#d2d2d2" stroke-width="0.6" stroke-dasharray="0.7,1.3"/>
<line x1="495.6" y1="286.94" x2="692.8" y2="286.94" stroke="#d2d2d2" stroke-width="0.6" stroke-dasharray="0.7,1.3"/>
<line x1="495.6" y1="285.68" x2="692.8" y2="285.68" stroke="#d2d2d2" stroke-width="0.6" stroke-dasharray="0.7,1.3"/>
<line x1="495.6" y1="277.12" x2="692.8" y2="277.12" stroke="#d2d2d2" stroke-width="0.6" stroke-dasharray="0.7,1.3"/>
<line x1="495.6" y1="272.77" x2="692.8" y2="272.77" stroke="#d2d2d2" stroke-width="0.6" stroke-dasharray="0.7,1.3"/>
<line x1="495.6" y1="269.69" x2="692.8" y2="269.69" stroke="#d2d2d2" stroke-width="0.6" stroke-dasharray="0.7,1.3"/>
<line x1="495.6" y1="267.3" x2="692.8" y2="267.3" stroke="#d2d2d2" stroke-width="0.6" stroke-dasharray="0.7,1.3"/>
<line x1="495.6" y1="265.34" x2="692.8" y2="265.34" stroke="#d2d2d2" stroke-width="0.6" stroke-dasharray="0.7,1.3"/>
<line x1="495.6" y1="263.69" x2="692.8" y2="263.69" stroke="#d2d2d2" stroke-width="0.6" stroke-dasharray="0.7,1.3"/>
<line x1="495.6" y1="262.26" x2="692.8" y2="262.26" stroke="#d2d2d2" stroke-width="0.6" stroke-dasharray="0.7,1.3"/>
<line x1="495.6" y1="261" x2="692.8" y2="261" stroke="#d2d2d2" stroke-width="0.6" stroke-dasharray="0.7,1.3"/>
<line x1="495.6" y1="252.44" x2="692.8" y2="252.44" stroke="#d2d2d2" stroke-width="0.6" stroke-dasharray="0.7,1.3"/>
<line x1="495.6" y1="248.09" x2="692.8" y2="248.09" stroke="#d2d2d2" stroke-width="0.6" stroke-dasharray="0.7,1.3"/>
<line x1="495.6" y1="245.01" x2="692.8" y2="245.01" stroke="#d2d2d2" stroke-width="0.6" stroke-dasharray="0.7,1.3"/>
<line x1="495.6" y1="242.61" x2="692.8" y2="242.61" stroke="#d2d2d2" stroke-width="0.6" stroke-dasharray="0.7,1.3"/>
<line x1="495.6" y1="240.66" x2="692.8" y2="240.66" stroke="#d2d2d2" stroke-width="0.6" stroke-dasharray="0.7,1.3"/>
<line x1="495.6" y1="239.01" x2="692.8" y2="239.01" stroke="#d2d2d2" stroke-width="0.6" stroke-dasharray="0.7,1.3"/>
<line x1="495.6" y1="237.58" x2="692.8" y2="237.58" stroke="#d2d2d2" stroke-width="0.6" stroke-dasharray="0.7,1.3"/>
<line x1="495.6" y1="236.31" x2="692.8" y2="236.31" stroke="#d2d2d2" stroke-width="0.6" stroke-dasharray="0.7,1.3"/>
<line x1="495.6" y1="227.75" x2="692.8" y2="227.75" stroke="#d2d2d2" stroke-width="0.6" stroke-dasharray="0.7,1.3"/>
<line x1="495.6" y1="223.41" x2="692.8" y2="223.41" stroke="#d2d2d2" stroke-width="0.6" stroke-dasharray="0.7,1.3"/>
<line x1="495.6" y1="220.32" x2="692.8" y2="220.32" stroke="#d2d2d2" stroke-width="0.6" stroke-dasharray="0.7,1.3"/>
<line x1="495.6" y1="217.93" x2="692.8" y2="217.93" stroke="#d2d2d2" stroke-width="0.6" stroke-dasharray="0.7,1.3"/>
<line x1="495.6" y1="215.98" x2="692.8" y2="215.98" stroke="#d2d2d2" stroke-width="0.6" stroke-dasharray="0.7,1.3"/>
<line x1="495.6" y1="214.32" x2="692.8" y2="214.32" stroke="#d2d2d2" stroke-width="0.6" stroke-dasharray="0.7,1.3"/>
<line x1="495.6" y1="212.89" x2="692.8" y2="212.89" stroke="#d2d2d2" stroke-width="0.6" stroke-dasharray="0.7,1.3"/>
<line x1="495.6" y1="211.63" x2="692.8" y2="211.63" stroke="#d2d2d2" stroke-width="0.6" stroke-dasharray="0.7,1.3"/>
<line x1="524.93" y1="210.5" x2="524.93" y2="358.6" stroke="#e6e6e6" stroke-width="0.8" />
<line x1="566.9" y1="210.5" x2="566.9" y2="358.6" stroke="#e6e6e6" stroke-width="0.8" />
<line x1="608.87" y1="210.5" x2="608.87" y2="358.6" stroke="#e6e6e6" stroke-width="0.8" />
<line x1="650.83" y1="210.5" x2="650.83" y2="358.6" stroke="#e6e6e6" stroke-width="0.8" />
<line x1="495.6" y1="333.92" x2="692.8" y2="333.92" stroke="#e6e6e6" stroke-width="0.8" />
<line x1="495.6" y1="309.23" x2="692.8" y2="309.23" stroke="#e6e6e6" stroke-width="0.8" />
<line x1="495.6" y1="284.55" x2="692.8" y2="284.55" stroke="#e6e6e6" stroke-width="0.8" />
<line x1="495.6" y1="259.87" x2="692.8" y2="259.87" stroke="#e6e6e6" stroke-width="0.8" />
<line x1="495.6" y1="235.18" x2="692.8" y2="235.18" stroke="#e6e6e6" stroke-width="0.8" />
<polyline points="495.8,267.5 501.1,268.8 506.8,269.6 512.5,272.8 518.9,276 524.5,278.4 529.5,281 535.2,282 539.5,284.1 547.7,285.8 556,288.6 564.2,291.7 572.5,293.8 580.8,296.4 590,300.6 600.3,305.1 610.7,309.3 621,311.8 631.3,313 641.7,313.4 648.9,311.8 660,305.5 670,300 680,295.3 689.2,290.6" fill="none" stroke="#ff2020" stroke-width="1.1" stroke-dasharray="1.1,0.7"/>
<polyline points="501.2,278.3 507.4,277.2 512.6,279.3 516.7,282.4 520.9,287.6 524,290.7 527,292.7 531.2,291.1 534.3,292.3 538.4,296.4 542.6,295.8 545.7,298.9 548.8,300 552.9,302 560.1,304.1 568.4,307.2 576.6,311.3 584.9,314 590,315.5 600.3,318 610.7,320 621,321 631.3,319.2 639.6,315.1 648.9,311.3 660,305 670,299.5 680,294.5 689.2,289.8" fill="none" stroke="#3838ff" stroke-width="1.1" stroke-dasharray="1.1,0.7"/>
<polyline points="513.6,284 516.7,290.7 519.8,293.8 522.9,298.9 526,296.9 529.1,293.8 532.2,295.8 535.3,303.1 538.4,301 540.5,302 542.6,306.8 545.2,304.1 548.8,308.2 550.8,307.2 553.9,309.3 562.2,312.4 570.4,316.5 580.8,320.6 590,324.8 600.3,326.2 610.7,326.8 621,325.4 631.3,321.3 639.6,317.1 648.9,311.8 660,305 670,299 680,293.8 689.2,288.8" fill="none" stroke="#20e020" stroke-width="1.1" stroke-dasharray="1.1,0.7"/>
<polyline points="554.9,324.8 564.2,326.8 576.6,329.9 584.9,331.4 590,331.4 600.3,331.4 610.7,330.6 621,327.5 631.3,322.7 639.6,317.6 648.9,312 660,305.2 670,299.2 680,294 689.2,289" fill="none" stroke="#20f0f0" stroke-width="1.1" stroke-dasharray="1.1,0.7"/>
<polyline points="568.4,331.6 576.6,333 584.9,334.5 590,335.7 600.3,335.7 610.7,333 621,328.3 631.3,323.1 639.6,318 648.9,312 660,305.2 670,299.2 680,294 689.2,288.8" fill="none" stroke="#202020" stroke-width="1.1" stroke-dasharray="1.1,0.7"/>
<rect x="495.6" y="210.5" width="197.2" height="148.1" fill="none" stroke="#a6a6a6" stroke-width="1" />
<line x1="524.93" y1="358.6" x2="524.93" y2="356.6" stroke="#a6a6a6" stroke-width="0.7" />
<line x1="524.93" y1="210.5" x2="524.93" y2="212.5" stroke="#a6a6a6" stroke-width="0.7" />
<line x1="566.9" y1="358.6" x2="566.9" y2="356.6" stroke="#a6a6a6" stroke-width="0.7" />
<line x1="566.9" y1="210.5" x2="566.9" y2="212.5" stroke="#a6a6a6" stroke-width="0.7" />
<line x1="608.87" y1="358.6" x2="608.87" y2="356.6" stroke="#a6a6a6" stroke-width="0.7" />
<line x1="608.87" y1="210.5" x2="608.87" y2="212.5" stroke="#a6a6a6" stroke-width="0.7" />
<line x1="650.83" y1="358.6" x2="650.83" y2="356.6" stroke="#a6a6a6" stroke-width="0.7" />
<line x1="650.83" y1="210.5" x2="650.83" y2="212.5" stroke="#a6a6a6" stroke-width="0.7" />
<line x1="495.6" y1="333.92" x2="497.6" y2="333.92" stroke="#a6a6a6" stroke-width="0.7" />
<line x1="692.8" y1="333.92" x2="690.8" y2="333.92" stroke="#a6a6a6" stroke-width="0.7" />
<line x1="495.6" y1="309.23" x2="497.6" y2="309.23" stroke="#a6a6a6" stroke-width="0.7" />
<line x1="692.8" y1="309.23" x2="690.8" y2="309.23" stroke="#a6a6a6" stroke-width="0.7" />
<line x1="495.6" y1="284.55" x2="497.6" y2="284.55" stroke="#a6a6a6" stroke-width="0.7" />
<line x1="692.8" y1="284.55" x2="690.8" y2="284.55" stroke="#a6a6a6" stroke-width="0.7" />
<line x1="495.6" y1="259.87" x2="497.6" y2="259.87" stroke="#a6a6a6" stroke-width="0.7" />
<line x1="692.8" y1="259.87" x2="690.8" y2="259.87" stroke="#a6a6a6" stroke-width="0.7" />
<line x1="495.6" y1="235.18" x2="497.6" y2="235.18" stroke="#a6a6a6" stroke-width="0.7" />
<line x1="692.8" y1="235.18" x2="690.8" y2="235.18" stroke="#a6a6a6" stroke-width="0.7" />
<line x1="502.99" y1="358.6" x2="502.99" y2="357.4" stroke="#a6a6a6" stroke-width="0.5" />
<line x1="502.99" y1="210.5" x2="502.99" y2="211.7" stroke="#a6a6a6" stroke-width="0.5" />
<line x1="508.23" y1="358.6" x2="508.23" y2="357.4" stroke="#a6a6a6" stroke-width="0.5" />
<line x1="508.23" y1="210.5" x2="508.23" y2="211.7" stroke="#a6a6a6" stroke-width="0.5" />
<line x1="512.3" y1="358.6" x2="512.3" y2="357.4" stroke="#a6a6a6" stroke-width="0.5" />
<line x1="512.3" y1="210.5" x2="512.3" y2="211.7" stroke="#a6a6a6" stroke-width="0.5" />
<line x1="515.62" y1="358.6" x2="515.62" y2="357.4" stroke="#a6a6a6" stroke-width="0.5" />
<line x1="515.62" y1="210.5" x2="515.62" y2="211.7" stroke="#a6a6a6" stroke-width="0.5" />
<line x1="518.43" y1="358.6" x2="518.43" y2="357.4" stroke="#a6a6a6" stroke-width="0.5" />
<line x1="518.43" y1="210.5" x2="518.43" y2="211.7" stroke="#a6a6a6" stroke-width="0.5" />
<line x1="520.87" y1="358.6" x2="520.87" y2="357.4" stroke="#a6a6a6" stroke-width="0.5" />
<line x1="520.87" y1="210.5" x2="520.87" y2="211.7" stroke="#a6a6a6" stroke-width="0.5" />
<line x1="523.01" y1="358.6" x2="523.01" y2="357.4" stroke="#a6a6a6" stroke-width="0.5" />
<line x1="523.01" y1="210.5" x2="523.01" y2="211.7" stroke="#a6a6a6" stroke-width="0.5" />
<line x1="537.57" y1="358.6" x2="537.57" y2="357.4" stroke="#a6a6a6" stroke-width="0.5" />
<line x1="537.57" y1="210.5" x2="537.57" y2="211.7" stroke="#a6a6a6" stroke-width="0.5" />
<line x1="544.96" y1="358.6" x2="544.96" y2="357.4" stroke="#a6a6a6" stroke-width="0.5" />
<line x1="544.96" y1="210.5" x2="544.96" y2="211.7" stroke="#a6a6a6" stroke-width="0.5" />
<line x1="550.2" y1="358.6" x2="550.2" y2="357.4" stroke="#a6a6a6" stroke-width="0.5" />
<line x1="550.2" y1="210.5" x2="550.2" y2="211.7" stroke="#a6a6a6" stroke-width="0.5" />
<line x1="554.27" y1="358.6" x2="554.27" y2="357.4" stroke="#a6a6a6" stroke-width="0.5" />
<line x1="554.27" y1="210.5" x2="554.27" y2="211.7" stroke="#a6a6a6" stroke-width="0.5" />
<line x1="557.59" y1="358.6" x2="557.59" y2="357.4" stroke="#a6a6a6" stroke-width="0.5" />
<line x1="557.59" y1="210.5" x2="557.59" y2="211.7" stroke="#a6a6a6" stroke-width="0.5" />
<line x1="560.4" y1="358.6" x2="560.4" y2="357.4" stroke="#a6a6a6" stroke-width="0.5" />
<line x1="560.4" y1="210.5" x2="560.4" y2="211.7" stroke="#a6a6a6" stroke-width="0.5" />
<line x1="562.83" y1="358.6" x2="562.83" y2="357.4" stroke="#a6a6a6" stroke-width="0.5" />
<line x1="562.83" y1="210.5" x2="562.83" y2="211.7" stroke="#a6a6a6" stroke-width="0.5" />
<line x1="564.98" y1="358.6" x2="564.98" y2="357.4" stroke="#a6a6a6" stroke-width="0.5" />
<line x1="564.98" y1="210.5" x2="564.98" y2="211.7" stroke="#a6a6a6" stroke-width="0.5" />
<line x1="579.53" y1="358.6" x2="579.53" y2="357.4" stroke="#a6a6a6" stroke-width="0.5" />
<line x1="579.53" y1="210.5" x2="579.53" y2="211.7" stroke="#a6a6a6" stroke-width="0.5" />
<line x1="586.92" y1="358.6" x2="586.92" y2="357.4" stroke="#a6a6a6" stroke-width="0.5" />
<line x1="586.92" y1="210.5" x2="586.92" y2="211.7" stroke="#a6a6a6" stroke-width="0.5" />
<line x1="592.17" y1="358.6" x2="592.17" y2="357.4" stroke="#a6a6a6" stroke-width="0.5" />
<line x1="592.17" y1="210.5" x2="592.17" y2="211.7" stroke="#a6a6a6" stroke-width="0.5" />
<line x1="596.23" y1="358.6" x2="596.23" y2="357.4" stroke="#a6a6a6" stroke-width="0.5" />
<line x1="596.23" y1="210.5" x2="596.23" y2="211.7" stroke="#a6a6a6" stroke-width="0.5" />
<line x1="599.56" y1="358.6" x2="599.56" y2="357.4" stroke="#a6a6a6" stroke-width="0.5" />
<line x1="599.56" y1="210.5" x2="599.56" y2="211.7" stroke="#a6a6a6" stroke-width="0.5" />
<line x1="602.37" y1="358.6" x2="602.37" y2="357.4" stroke="#a6a6a6" stroke-width="0.5" />
<line x1="602.37" y1="210.5" x2="602.37" y2="211.7" stroke="#a6a6a6" stroke-width="0.5" />
<line x1="604.8" y1="358.6" x2="604.8" y2="357.4" stroke="#a6a6a6" stroke-width="0.5" />
<line x1="604.8" y1="210.5" x2="604.8" y2="211.7" stroke="#a6a6a6" stroke-width="0.5" />
<line x1="606.95" y1="358.6" x2="606.95" y2="357.4" stroke="#a6a6a6" stroke-width="0.5" />
<line x1="606.95" y1="210.5" x2="606.95" y2="211.7" stroke="#a6a6a6" stroke-width="0.5" />
<line x1="621.5" y1="358.6" x2="621.5" y2="357.4" stroke="#a6a6a6" stroke-width="0.5" />
<line x1="621.5" y1="210.5" x2="621.5" y2="211.7" stroke="#a6a6a6" stroke-width="0.5" />
<line x1="628.89" y1="358.6" x2="628.89" y2="357.4" stroke="#a6a6a6" stroke-width="0.5" />
<line x1="628.89" y1="210.5" x2="628.89" y2="211.7" stroke="#a6a6a6" stroke-width="0.5" />
<line x1="634.13" y1="358.6" x2="634.13" y2="357.4" stroke="#a6a6a6" stroke-width="0.5" />
<line x1="634.13" y1="210.5" x2="634.13" y2="211.7" stroke="#a6a6a6" stroke-width="0.5" />
<line x1="638.2" y1="358.6" x2="638.2" y2="357.4" stroke="#a6a6a6" stroke-width="0.5" />
<line x1="638.2" y1="210.5" x2="638.2" y2="211.7" stroke="#a6a6a6" stroke-width="0.5" />
<line x1="641.52" y1="358.6" x2="641.52" y2="357.4" stroke="#a6a6a6" stroke-width="0.5" />
<line x1="641.52" y1="210.5" x2="641.52" y2="211.7" stroke="#a6a6a6" stroke-width="0.5" />
<line x1="644.33" y1="358.6" x2="644.33" y2="357.4" stroke="#a6a6a6" stroke-width="0.5" />
<line x1="644.33" y1="210.5" x2="644.33" y2="211.7" stroke="#a6a6a6" stroke-width="0.5" />
<line x1="646.77" y1="358.6" x2="646.77" y2="357.4" stroke="#a6a6a6" stroke-width="0.5" />
<line x1="646.77" y1="210.5" x2="646.77" y2="211.7" stroke="#a6a6a6" stroke-width="0.5" />
<line x1="648.91" y1="358.6" x2="648.91" y2="357.4" stroke="#a6a6a6" stroke-width="0.5" />
<line x1="648.91" y1="210.5" x2="648.91" y2="211.7" stroke="#a6a6a6" stroke-width="0.5" />
<line x1="663.47" y1="358.6" x2="663.47" y2="357.4" stroke="#a6a6a6" stroke-width="0.5" />
<line x1="663.47" y1="210.5" x2="663.47" y2="211.7" stroke="#a6a6a6" stroke-width="0.5" />
<line x1="670.86" y1="358.6" x2="670.86" y2="357.4" stroke="#a6a6a6" stroke-width="0.5" />
<line x1="670.86" y1="210.5" x2="670.86" y2="211.7" stroke="#a6a6a6" stroke-width="0.5" />
<line x1="676.1" y1="358.6" x2="676.1" y2="357.4" stroke="#a6a6a6" stroke-width="0.5" />
<line x1="676.1" y1="210.5" x2="676.1" y2="211.7" stroke="#a6a6a6" stroke-width="0.5" />
<line x1="680.17" y1="358.6" x2="680.17" y2="357.4" stroke="#a6a6a6" stroke-width="0.5" />
<line x1="680.17" y1="210.5" x2="680.17" y2="211.7" stroke="#a6a6a6" stroke-width="0.5" />
<line x1="683.49" y1="358.6" x2="683.49" y2="357.4" stroke="#a6a6a6" stroke-width="0.5" />
<line x1="683.49" y1="210.5" x2="683.49" y2="211.7" stroke="#a6a6a6" stroke-width="0.5" />
<line x1="686.3" y1="358.6" x2="686.3" y2="357.4" stroke="#a6a6a6" stroke-width="0.5" />
<line x1="686.3" y1="210.5" x2="686.3" y2="211.7" stroke="#a6a6a6" stroke-width="0.5" />
<line x1="688.73" y1="358.6" x2="688.73" y2="357.4" stroke="#a6a6a6" stroke-width="0.5" />
<line x1="688.73" y1="210.5" x2="688.73" y2="211.7" stroke="#a6a6a6" stroke-width="0.5" />
<line x1="690.88" y1="358.6" x2="690.88" y2="357.4" stroke="#a6a6a6" stroke-width="0.5" />
<line x1="690.88" y1="210.5" x2="690.88" y2="211.7" stroke="#a6a6a6" stroke-width="0.5" />
<line x1="495.6" y1="351.17" x2="496.8" y2="351.17" stroke="#a6a6a6" stroke-width="0.5" />
<line x1="692.8" y1="351.17" x2="691.6" y2="351.17" stroke="#a6a6a6" stroke-width="0.5" />
<line x1="495.6" y1="346.82" x2="496.8" y2="346.82" stroke="#a6a6a6" stroke-width="0.5" />
<line x1="692.8" y1="346.82" x2="691.6" y2="346.82" stroke="#a6a6a6" stroke-width="0.5" />
<line x1="495.6" y1="343.74" x2="496.8" y2="343.74" stroke="#a6a6a6" stroke-width="0.5" />
<line x1="692.8" y1="343.74" x2="691.6" y2="343.74" stroke="#a6a6a6" stroke-width="0.5" />
<line x1="495.6" y1="341.35" x2="496.8" y2="341.35" stroke="#a6a6a6" stroke-width="0.5" />
<line x1="692.8" y1="341.35" x2="691.6" y2="341.35" stroke="#a6a6a6" stroke-width="0.5" />
<line x1="495.6" y1="339.39" x2="496.8" y2="339.39" stroke="#a6a6a6" stroke-width="0.5" />
<line x1="692.8" y1="339.39" x2="691.6" y2="339.39" stroke="#a6a6a6" stroke-width="0.5" />
<line x1="495.6" y1="337.74" x2="496.8" y2="337.74" stroke="#a6a6a6" stroke-width="0.5" />
<line x1="692.8" y1="337.74" x2="691.6" y2="337.74" stroke="#a6a6a6" stroke-width="0.5" />
<line x1="495.6" y1="336.31" x2="496.8" y2="336.31" stroke="#a6a6a6" stroke-width="0.5" />
<line x1="692.8" y1="336.31" x2="691.6" y2="336.31" stroke="#a6a6a6" stroke-width="0.5" />
<line x1="495.6" y1="335.05" x2="496.8" y2="335.05" stroke="#a6a6a6" stroke-width="0.5" />
<line x1="692.8" y1="335.05" x2="691.6" y2="335.05" stroke="#a6a6a6" stroke-width="0.5" />
<line x1="495.6" y1="326.49" x2="496.8" y2="326.49" stroke="#a6a6a6" stroke-width="0.5" />
<line x1="692.8" y1="326.49" x2="691.6" y2="326.49" stroke="#a6a6a6" stroke-width="0.5" />
<line x1="495.6" y1="322.14" x2="496.8" y2="322.14" stroke="#a6a6a6" stroke-width="0.5" />
<line x1="692.8" y1="322.14" x2="691.6" y2="322.14" stroke="#a6a6a6" stroke-width="0.5" />
<line x1="495.6" y1="319.06" x2="496.8" y2="319.06" stroke="#a6a6a6" stroke-width="0.5" />
<line x1="692.8" y1="319.06" x2="691.6" y2="319.06" stroke="#a6a6a6" stroke-width="0.5" />
<line x1="495.6" y1="316.66" x2="496.8" y2="316.66" stroke="#a6a6a6" stroke-width="0.5" />
<line x1="692.8" y1="316.66" x2="691.6" y2="316.66" stroke="#a6a6a6" stroke-width="0.5" />
<line x1="495.6" y1="314.71" x2="496.8" y2="314.71" stroke="#a6a6a6" stroke-width="0.5" />
<line x1="692.8" y1="314.71" x2="691.6" y2="314.71" stroke="#a6a6a6" stroke-width="0.5" />
<line x1="495.6" y1="313.06" x2="496.8" y2="313.06" stroke="#a6a6a6" stroke-width="0.5" />
<line x1="692.8" y1="313.06" x2="691.6" y2="313.06" stroke="#a6a6a6" stroke-width="0.5" />
<line x1="495.6" y1="311.63" x2="496.8" y2="311.63" stroke="#a6a6a6" stroke-width="0.5" />
<line x1="692.8" y1="311.63" x2="691.6" y2="311.63" stroke="#a6a6a6" stroke-width="0.5" />
<line x1="495.6" y1="310.36" x2="496.8" y2="310.36" stroke="#a6a6a6" stroke-width="0.5" />
<line x1="692.8" y1="310.36" x2="691.6" y2="310.36" stroke="#a6a6a6" stroke-width="0.5" />
<line x1="495.6" y1="301.8" x2="496.8" y2="301.8" stroke="#a6a6a6" stroke-width="0.5" />
<line x1="692.8" y1="301.8" x2="691.6" y2="301.8" stroke="#a6a6a6" stroke-width="0.5" />
<line x1="495.6" y1="297.46" x2="496.8" y2="297.46" stroke="#a6a6a6" stroke-width="0.5" />
<line x1="692.8" y1="297.46" x2="691.6" y2="297.46" stroke="#a6a6a6" stroke-width="0.5" />
<line x1="495.6" y1="294.37" x2="496.8" y2="294.37" stroke="#a6a6a6" stroke-width="0.5" />
<line x1="692.8" y1="294.37" x2="691.6" y2="294.37" stroke="#a6a6a6" stroke-width="0.5" />
<line x1="495.6" y1="291.98" x2="496.8" y2="291.98" stroke="#a6a6a6" stroke-width="0.5" />
<line x1="692.8" y1="291.98" x2="691.6" y2="291.98" stroke="#a6a6a6" stroke-width="0.5" />
<line x1="495.6" y1="290.03" x2="496.8" y2="290.03" stroke="#a6a6a6" stroke-width="0.5" />
<line x1="692.8" y1="290.03" x2="691.6" y2="290.03" stroke="#a6a6a6" stroke-width="0.5" />
<line x1="495.6" y1="288.37" x2="496.8" y2="288.37" stroke="#a6a6a6" stroke-width="0.5" />
<line x1="692.8" y1="288.37" x2="691.6" y2="288.37" stroke="#a6a6a6" stroke-width="0.5" />
<line x1="495.6" y1="286.94" x2="496.8" y2="286.94" stroke="#a6a6a6" stroke-width="0.5" />
<line x1="692.8" y1="286.94" x2="691.6" y2="286.94" stroke="#a6a6a6" stroke-width="0.5" />
<line x1="495.6" y1="285.68" x2="496.8" y2="285.68" stroke="#a6a6a6" stroke-width="0.5" />
<line x1="692.8" y1="285.68" x2="691.6" y2="285.68" stroke="#a6a6a6" stroke-width="0.5" />
<line x1="495.6" y1="277.12" x2="496.8" y2="277.12" stroke="#a6a6a6" stroke-width="0.5" />
<line x1="692.8" y1="277.12" x2="691.6" y2="277.12" stroke="#a6a6a6" stroke-width="0.5" />
<line x1="495.6" y1="272.77" x2="496.8" y2="272.77" stroke="#a6a6a6" stroke-width="0.5" />
<line x1="692.8" y1="272.77" x2="691.6" y2="272.77" stroke="#a6a6a6" stroke-width="0.5" />
<line x1="495.6" y1="269.69" x2="496.8" y2="269.69" stroke="#a6a6a6" stroke-width="0.5" />
<line x1="692.8" y1="269.69" x2="691.6" y2="269.69" stroke="#a6a6a6" stroke-width="0.5" />
<line x1="495.6" y1="267.3" x2="496.8" y2="267.3" stroke="#a6a6a6" stroke-width="0.5" />
<line x1="692.8" y1="267.3" x2="691.6" y2="267.3" stroke="#a6a6a6" stroke-width="0.5" />
<line x1="495.6" y1="265.34" x2="496.8" y2="265.34" stroke="#a6a6a6" stroke-width="0.5" />
<line x1="692.8" y1="265.34" x2="691.6" y2="265.34" stroke="#a6a6a6" stroke-width="0.5" />
<line x1="495.6" y1="263.69" x2="496.8" y2="263.69" stroke="#a6a6a6" stroke-width="0.5" />
<line x1="692.8" y1="263.69" x2="691.6" y2="263.69" stroke="#a6a6a6" stroke-width="0.5" />
<line x1="495.6" y1="262.26" x2="496.8" y2="262.26" stroke="#a6a6a6" stroke-width="0.5" />
<line x1="692.8" y1="262.26" x2="691.6" y2="262.26" stroke="#a6a6a6" stroke-width="0.5" />
<line x1="495.6" y1="261" x2="496.8" y2="261" stroke="#a6a6a6" stroke-width="0.5" />
<line x1="692.8" y1="261" x2="691.6" y2="261" stroke="#a6a6a6" stroke-width="0.5" />
<line x1="495.6" y1="252.44" x2="496.8" y2="252.44" stroke="#a6a6a6" stroke-width="0.5" />
<line x1="692.8" y1="252.44" x2="691.6" y2="252.44" stroke="#a6a6a6" stroke-width="0.5" />
<line x1="495.6" y1="248.09" x2="496.8" y2="248.09" stroke="#a6a6a6" stroke-width="0.5" />
<line x1="692.8" y1="248.09" x2="691.6" y2="248.09" stroke="#a6a6a6" stroke-width="0.5" />
<line x1="495.6" y1="245.01" x2="496.8" y2="245.01" stroke="#a6a6a6" stroke-width="0.5" />
<line x1="692.8" y1="245.01" x2="691.6" y2="245.01" stroke="#a6a6a6" stroke-width="0.5" />
<line x1="495.6" y1="242.61" x2="496.8" y2="242.61" stroke="#a6a6a6" stroke-width="0.5" />
<line x1="692.8" y1="242.61" x2="691.6" y2="242.61" stroke="#a6a6a6" stroke-width="0.5" />
<line x1="495.6" y1="240.66" x2="496.8" y2="240.66" stroke="#a6a6a6" stroke-width="0.5" />
<line x1="692.8" y1="240.66" x2="691.6" y2="240.66" stroke="#a6a6a6" stroke-width="0.5" />
<line x1="495.6" y1="239.01" x2="496.8" y2="239.01" stroke="#a6a6a6" stroke-width="0.5" />
<line x1="692.8" y1="239.01" x2="691.6" y2="239.01" stroke="#a6a6a6" stroke-width="0.5" />
<line x1="495.6" y1="237.58" x2="496.8" y2="237.58" stroke="#a6a6a6" stroke-width="0.5" />
<line x1="692.8" y1="237.58" x2="691.6" y2="237.58" stroke="#a6a6a6" stroke-width="0.5" />
<line x1="495.6" y1="236.31" x2="496.8" y2="236.31" stroke="#a6a6a6" stroke-width="0.5" />
<line x1="692.8" y1="236.31" x2="691.6" y2="236.31" stroke="#a6a6a6" stroke-width="0.5" />
<line x1="495.6" y1="227.75" x2="496.8" y2="227.75" stroke="#a6a6a6" stroke-width="0.5" />
<line x1="692.8" y1="227.75" x2="691.6" y2="227.75" stroke="#a6a6a6" stroke-width="0.5" />
<line x1="495.6" y1="223.41" x2="496.8" y2="223.41" stroke="#a6a6a6" stroke-width="0.5" />
<line x1="692.8" y1="223.41" x2="691.6" y2="223.41" stroke="#a6a6a6" stroke-width="0.5" />
<line x1="495.6" y1="220.32" x2="496.8" y2="220.32" stroke="#a6a6a6" stroke-width="0.5" />
<line x1="692.8" y1="220.32" x2="691.6" y2="220.32" stroke="#a6a6a6" stroke-width="0.5" />
<line x1="495.6" y1="217.93" x2="496.8" y2="217.93" stroke="#a6a6a6" stroke-width="0.5" />
<line x1="692.8" y1="217.93" x2="691.6" y2="217.93" stroke="#a6a6a6" stroke-width="0.5" />
<line x1="495.6" y1="215.98" x2="496.8" y2="215.98" stroke="#a6a6a6" stroke-width="0.5" />
<line x1="692.8" y1="215.98" x2="691.6" y2="215.98" stroke="#a6a6a6" stroke-width="0.5" />
<line x1="495.6" y1="214.32" x2="496.8" y2="214.32" stroke="#a6a6a6" stroke-width="0.5" />
<line x1="692.8" y1="214.32" x2="691.6" y2="214.32" stroke="#a6a6a6" stroke-width="0.5" />
<line x1="495.6" y1="212.89" x2="496.8" y2="212.89" stroke="#a6a6a6" stroke-width="0.5" />
<line x1="692.8" y1="212.89" x2="691.6" y2="212.89" stroke="#a6a6a6" stroke-width="0.5" />
<line x1="495.6" y1="211.63" x2="496.8" y2="211.63" stroke="#a6a6a6" stroke-width="0.5" />
<line x1="692.8" y1="211.63" x2="691.6" y2="211.63" stroke="#a6a6a6" stroke-width="0.5" />
<text x="488" y="240.28" font-size="9.2" text-anchor="end" fill="#262626" stroke="#262626" stroke-width="0.2" >10</text>
<text x="488.4" y="236.28" font-size="6.4" text-anchor="start" fill="#262626" stroke="#262626" stroke-width="0.2" >2</text>
<text x="488" y="264.97" font-size="9.2" text-anchor="end" fill="#262626" stroke="#262626" stroke-width="0.2" >10</text>
<text x="488.4" y="260.97" font-size="6.4" text-anchor="start" fill="#262626" stroke="#262626" stroke-width="0.2" >1</text>
<text x="488" y="289.65" font-size="9.2" text-anchor="end" fill="#262626" stroke="#262626" stroke-width="0.2" >10</text>
<text x="488.4" y="285.65" font-size="6.4" text-anchor="start" fill="#262626" stroke="#262626" stroke-width="0.2" >0</text>
<text x="484.6" y="314.33" font-size="9.2" text-anchor="end" fill="#262626" stroke="#262626" stroke-width="0.2" >10</text>
<text x="485" y="310.33" font-size="6.4" text-anchor="start" fill="#262626" stroke="#262626" stroke-width="0.2" >-1</text>
<text x="484.6" y="339.02" font-size="9.2" text-anchor="end" fill="#262626" stroke="#262626" stroke-width="0.2" >10</text>
<text x="485" y="335.02" font-size="6.4" text-anchor="start" fill="#262626" stroke="#262626" stroke-width="0.2" >-2</text>
<text x="518.03" y="373.2" font-size="9.2" text-anchor="start" fill="#262626" stroke="#262626" stroke-width="0.2" >10</text>
<text x="528.43" y="368.4" font-size="6.4" text-anchor="start" fill="#262626" stroke="#262626" stroke-width="0.2" >1</text>
<text x="560" y="373.2" font-size="9.2" text-anchor="start" fill="#262626" stroke="#262626" stroke-width="0.2" >10</text>
<text x="570.4" y="368.4" font-size="6.4" text-anchor="start" fill="#262626" stroke="#262626" stroke-width="0.2" >2</text>
<text x="601.97" y="373.2" font-size="9.2" text-anchor="start" fill="#262626" stroke="#262626" stroke-width="0.2" >10</text>
<text x="612.37" y="368.4" font-size="6.4" text-anchor="start" fill="#262626" stroke="#262626" stroke-width="0.2" >3</text>
<text x="643.93" y="373.2" font-size="9.2" text-anchor="start" fill="#262626" stroke="#262626" stroke-width="0.2" >10</text>
<text x="654.33" y="368.4" font-size="6.4" text-anchor="start" fill="#262626" stroke="#262626" stroke-width="0.2" >4</text>
<text x="685.9" y="373.2" font-size="9.2" text-anchor="start" fill="#262626" stroke="#262626" stroke-width="0.2" >10</text>
<text x="696.3" y="368.4" font-size="6.4" text-anchor="start" fill="#262626" stroke="#262626" stroke-width="0.2" >5</text>
<text x="594.2" y="384.5" font-size="9.2" text-anchor="middle" fill="#262626" stroke="#262626" stroke-width="0.2" >Integration time (ms)</text>
<text transform="translate(472.4,284.1) rotate(-90)" font-size="9.2" text-anchor="middle" fill="#262626" stroke="#262626" stroke-width="0.2">Frequency noise (Hz)</text>
<rect x="608.5" y="215.7" width="79.3" height="59" fill="#fff" stroke="#a6a6a6" stroke-width="0.8" />
<line x1="610.3" y1="222.8" x2="625.8" y2="222.8" stroke="#ff2020" stroke-width="1.0" stroke-opacity="0.55"/>
<rect x="617.4" y="222.15" width="1.3" height="1.3" fill="#ff2020"/>
<text x="627.8" y="226.1" font-size="9.2" text-anchor="start" fill="#262626" stroke="#262626" stroke-width="0.2" >Target 800 Hz</text>
<line x1="610.3" y1="234.23" x2="625.8" y2="234.23" stroke="#3838ff" stroke-width="1.0" stroke-opacity="0.55"/>
<rect x="617.4" y="233.58" width="1.3" height="1.3" fill="#3838ff"/>
<text x="627.8" y="237.53" font-size="9.2" text-anchor="start" fill="#262626" stroke="#262626" stroke-width="0.2" >Target 400 Hz</text>
<line x1="610.3" y1="245.66" x2="625.8" y2="245.66" stroke="#20e020" stroke-width="1.0" stroke-opacity="0.55"/>
<rect x="617.4" y="245.01" width="1.3" height="1.3" fill="#20e020"/>
<text x="627.8" y="248.96" font-size="9.2" text-anchor="start" fill="#262626" stroke="#262626" stroke-width="0.2" >Target 200 Hz</text>
<line x1="610.3" y1="257.09" x2="625.8" y2="257.09" stroke="#20f0f0" stroke-width="1.0" stroke-opacity="0.55"/>
<rect x="617.4" y="256.44" width="1.3" height="1.3" fill="#20f0f0"/>
<text x="627.8" y="260.39" font-size="9.2" text-anchor="start" fill="#262626" stroke="#262626" stroke-width="0.2" >Target 20 Hz</text>
<line x1="610.3" y1="268.52" x2="625.8" y2="268.52" stroke="#202020" stroke-width="1.0" stroke-opacity="0.55"/>
<rect x="617.4" y="267.87" width="1.3" height="1.3" fill="#202020"/>
<text x="627.8" y="271.82" font-size="9.2" text-anchor="start" fill="#262626" stroke="#262626" stroke-width="0.2" >Target 10 Hz</text>
</svg>
</body></html>
